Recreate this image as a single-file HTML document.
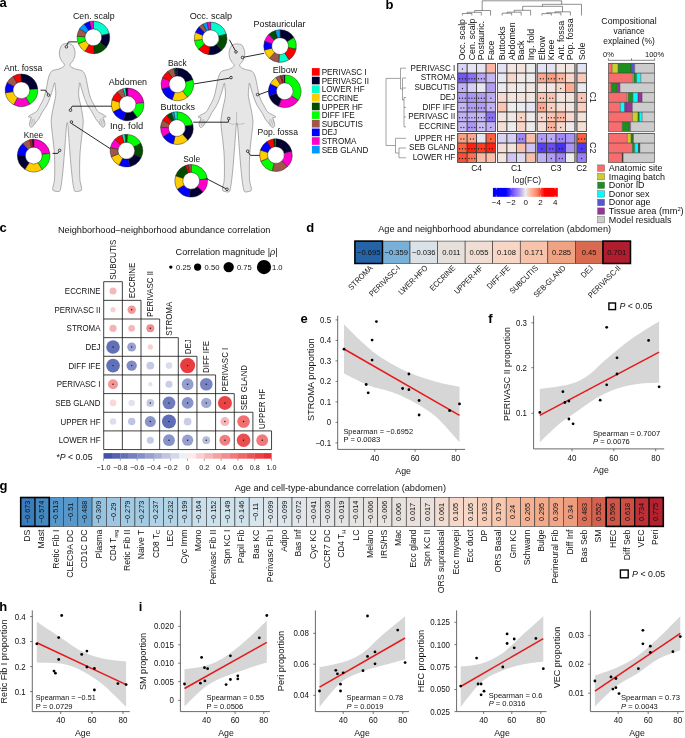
<!DOCTYPE html>
<html><head><meta charset="utf-8"><title>Figure</title>
<style>
html,body{margin:0;padding:0;background:#fff;}
svg{display:block;will-change:transform;}
text{font-family:"Liberation Sans", sans-serif;}
</style></head>
<body>
<svg width="685" height="738" viewBox="0 0 685 738" font-family='"Liberation Sans", sans-serif' fill="#111">
<text x="-0.40" y="6.70" font-size="13" font-weight="bold" fill="#000">a</text>
<path d="M67.20,43.50 C65.70,43.50 63.78,43.78 62.70,44.40 C61.62,45.02 61.23,46.10 60.70,47.20 C60.17,48.30 59.70,49.72 59.50,51.00 C59.30,52.28 59.35,53.63 59.50,54.90 C59.65,56.17 59.95,57.47 60.40,58.60 C60.85,59.73 61.57,60.80 62.20,61.70 C62.83,62.60 63.97,63.18 64.20,64.00 C64.43,64.82 64.53,65.75 63.60,66.60 C62.67,67.45 60.37,68.47 58.60,69.10 C56.83,69.73 54.37,69.78 53.00,70.40 C51.63,71.02 51.13,71.67 50.40,72.80 C49.67,73.93 49.12,75.43 48.60,77.20 C48.08,78.97 47.72,81.33 47.30,83.40 C46.88,85.47 46.68,87.12 46.10,89.60 C45.52,92.08 44.77,95.73 43.80,98.30 C42.83,100.87 41.43,102.88 40.30,105.00 C39.17,107.12 38.15,109.60 37.00,111.00 C35.85,112.40 34.62,112.67 33.40,113.40 C32.18,114.13 30.55,114.87 29.70,115.40 C28.85,115.93 28.30,116.30 28.30,116.60 C28.30,116.90 29.18,117.07 29.70,117.20 C30.22,117.33 31.30,116.88 31.40,117.40 C31.50,117.92 30.63,119.15 30.30,120.30 C29.97,121.45 29.37,123.20 29.40,124.30 C29.43,125.40 29.95,126.53 30.50,126.90 C31.05,127.27 31.78,127.28 32.70,126.50 C33.62,125.72 34.97,123.53 36.00,122.20 C37.03,120.87 37.87,120.15 38.90,118.50 C39.93,116.85 40.87,114.55 42.20,112.30 C43.53,110.05 45.63,107.33 46.90,105.00 C48.17,102.67 48.85,100.87 49.80,98.30 C50.75,95.73 51.80,92.18 52.60,89.60 C53.40,87.02 54.15,83.22 54.60,82.80 C55.05,82.38 55.10,85.35 55.30,87.10 C55.50,88.85 55.80,91.43 55.80,93.30 C55.80,95.17 55.67,96.22 55.30,98.30 C54.93,100.38 54.12,103.35 53.60,105.80 C53.08,108.25 52.57,110.88 52.20,113.00 C51.83,115.12 51.57,116.92 51.40,118.50 C51.23,120.08 51.15,120.82 51.20,122.50 C51.25,124.18 51.42,125.93 51.70,128.60 C51.98,131.27 52.48,134.78 52.90,138.50 C53.32,142.22 53.90,146.97 54.20,150.90 C54.50,154.83 54.62,158.17 54.70,162.10 C54.78,166.03 54.78,171.18 54.70,174.50 C54.62,177.82 54.52,179.85 54.20,182.00 C53.88,184.15 52.97,186.00 52.80,187.40 C52.63,188.80 52.63,189.75 53.20,190.40 C53.77,191.05 55.13,191.17 56.20,191.30 C57.27,191.43 58.82,191.92 59.60,191.20 C60.38,190.48 60.50,188.95 60.90,187.00 C61.30,185.05 61.58,183.03 62.00,179.50 C62.42,175.97 62.97,170.57 63.40,165.80 C63.83,161.03 64.20,156.07 64.60,150.90 C65.00,145.73 65.48,139.03 65.80,134.80 C66.12,130.57 66.27,127.53 66.50,125.50 C66.73,123.47 66.97,122.60 67.20,122.60 C67.43,122.60 67.67,123.47 67.90,125.50 C68.13,127.53 68.28,130.57 68.60,134.80 C68.92,139.03 69.40,145.73 69.80,150.90 C70.20,156.07 70.57,161.03 71.00,165.80 C71.43,170.57 71.98,175.97 72.40,179.50 C72.82,183.03 73.10,185.05 73.50,187.00 C73.90,188.95 74.02,190.48 74.80,191.20 C75.58,191.92 77.13,191.43 78.20,191.30 C79.27,191.17 80.63,191.05 81.20,190.40 C81.77,189.75 81.77,188.80 81.60,187.40 C81.43,186.00 80.52,184.15 80.20,182.00 C79.88,179.85 79.78,177.82 79.70,174.50 C79.62,171.18 79.62,166.03 79.70,162.10 C79.78,158.17 79.90,154.83 80.20,150.90 C80.50,146.97 81.08,142.22 81.50,138.50 C81.92,134.78 82.42,131.27 82.70,128.60 C82.98,125.93 83.15,124.18 83.20,122.50 C83.25,120.82 83.17,120.08 83.00,118.50 C82.83,116.92 82.57,115.12 82.20,113.00 C81.83,110.88 81.32,108.25 80.80,105.80 C80.28,103.35 79.47,100.38 79.10,98.30 C78.73,96.22 78.60,95.17 78.60,93.30 C78.60,91.43 78.90,88.85 79.10,87.10 C79.30,85.35 79.35,82.38 79.80,82.80 C80.25,83.22 81.00,87.02 81.80,89.60 C82.60,92.18 83.65,95.73 84.60,98.30 C85.55,100.87 86.23,102.67 87.50,105.00 C88.77,107.33 90.87,110.05 92.20,112.30 C93.53,114.55 94.47,116.85 95.50,118.50 C96.53,120.15 97.37,120.87 98.40,122.20 C99.43,123.53 100.78,125.72 101.70,126.50 C102.62,127.28 103.35,127.27 103.90,126.90 C104.45,126.53 104.97,125.40 105.00,124.30 C105.03,123.20 104.43,121.45 104.10,120.30 C103.77,119.15 102.90,117.92 103.00,117.40 C103.10,116.88 104.18,117.33 104.70,117.20 C105.22,117.07 106.10,116.90 106.10,116.60 C106.10,116.30 105.55,115.93 104.70,115.40 C103.85,114.87 102.22,114.13 101.00,113.40 C99.78,112.67 98.55,112.40 97.40,111.00 C96.25,109.60 95.23,107.12 94.10,105.00 C92.97,102.88 91.57,100.87 90.60,98.30 C89.63,95.73 88.88,92.08 88.30,89.60 C87.72,87.12 87.52,85.47 87.10,83.40 C86.68,81.33 86.32,78.97 85.80,77.20 C85.28,75.43 84.73,73.93 84.00,72.80 C83.27,71.67 82.77,71.02 81.40,70.40 C80.03,69.78 77.57,69.73 75.80,69.10 C74.03,68.47 71.73,67.45 70.80,66.60 C69.87,65.75 69.97,64.82 70.20,64.00 C70.43,63.18 71.57,62.60 72.20,61.70 C72.83,60.80 73.55,59.73 74.00,58.60 C74.45,57.47 74.75,56.17 74.90,54.90 C75.05,53.63 75.10,52.28 74.90,51.00 C74.70,49.72 74.23,48.30 73.70,47.20 C73.17,46.10 72.78,45.02 71.70,44.40 C70.62,43.78 68.70,43.50 67.20,43.50 Z" fill="#E6E6E6" stroke="#7A7A7A" stroke-width="0.6"/>
<path d="M236.90,43.90 C235.40,43.90 233.48,44.18 232.40,44.80 C231.32,45.42 230.93,46.50 230.40,47.60 C229.87,48.70 229.40,50.12 229.20,51.40 C229.00,52.68 229.05,54.03 229.20,55.30 C229.35,56.57 229.65,57.87 230.10,59.00 C230.55,60.13 231.27,61.20 231.90,62.10 C232.53,63.00 233.67,63.58 233.90,64.40 C234.13,65.22 234.23,66.15 233.30,67.00 C232.37,67.85 230.07,68.87 228.30,69.50 C226.53,70.13 224.07,70.18 222.70,70.80 C221.33,71.42 220.83,72.07 220.10,73.20 C219.37,74.33 218.82,75.83 218.30,77.60 C217.78,79.37 217.42,81.73 217.00,83.80 C216.58,85.87 216.38,87.52 215.80,90.00 C215.22,92.48 214.47,96.13 213.50,98.70 C212.53,101.27 211.13,103.28 210.00,105.40 C208.87,107.52 207.85,110.00 206.70,111.40 C205.55,112.80 204.32,113.07 203.10,113.80 C201.88,114.53 200.25,115.27 199.40,115.80 C198.55,116.33 198.00,116.70 198.00,117.00 C198.00,117.30 198.88,117.47 199.40,117.60 C199.92,117.73 201.00,117.28 201.10,117.80 C201.20,118.32 200.33,119.55 200.00,120.70 C199.67,121.85 199.07,123.60 199.10,124.70 C199.13,125.80 199.65,126.93 200.20,127.30 C200.75,127.67 201.48,127.68 202.40,126.90 C203.32,126.12 204.67,123.93 205.70,122.60 C206.73,121.27 207.57,120.55 208.60,118.90 C209.63,117.25 210.57,114.95 211.90,112.70 C213.23,110.45 215.33,107.73 216.60,105.40 C217.87,103.07 218.55,101.27 219.50,98.70 C220.45,96.13 221.50,92.58 222.30,90.00 C223.10,87.42 223.85,83.62 224.30,83.20 C224.75,82.78 224.80,85.75 225.00,87.50 C225.20,89.25 225.50,91.83 225.50,93.70 C225.50,95.57 225.37,96.62 225.00,98.70 C224.63,100.78 223.82,103.75 223.30,106.20 C222.78,108.65 222.27,111.28 221.90,113.40 C221.53,115.52 221.27,117.32 221.10,118.90 C220.93,120.48 220.85,121.22 220.90,122.90 C220.95,124.58 221.12,126.33 221.40,129.00 C221.68,131.67 222.18,135.18 222.60,138.90 C223.02,142.62 223.60,147.37 223.90,151.30 C224.20,155.23 224.32,158.57 224.40,162.50 C224.48,166.43 224.48,171.58 224.40,174.90 C224.32,178.22 224.22,180.25 223.90,182.40 C223.58,184.55 222.67,186.40 222.50,187.80 C222.33,189.20 222.33,190.15 222.90,190.80 C223.47,191.45 224.83,191.57 225.90,191.70 C226.97,191.83 228.52,192.32 229.30,191.60 C230.08,190.88 230.20,189.35 230.60,187.40 C231.00,185.45 231.28,183.43 231.70,179.90 C232.12,176.37 232.67,170.97 233.10,166.20 C233.53,161.43 233.90,156.47 234.30,151.30 C234.70,146.13 235.18,139.43 235.50,135.20 C235.82,130.97 235.97,127.93 236.20,125.90 C236.43,123.87 236.67,123.00 236.90,123.00 C237.13,123.00 237.37,123.87 237.60,125.90 C237.83,127.93 237.98,130.97 238.30,135.20 C238.62,139.43 239.10,146.13 239.50,151.30 C239.90,156.47 240.27,161.43 240.70,166.20 C241.13,170.97 241.68,176.37 242.10,179.90 C242.52,183.43 242.80,185.45 243.20,187.40 C243.60,189.35 243.72,190.88 244.50,191.60 C245.28,192.32 246.83,191.83 247.90,191.70 C248.97,191.57 250.33,191.45 250.90,190.80 C251.47,190.15 251.47,189.20 251.30,187.80 C251.13,186.40 250.22,184.55 249.90,182.40 C249.58,180.25 249.48,178.22 249.40,174.90 C249.32,171.58 249.32,166.43 249.40,162.50 C249.48,158.57 249.60,155.23 249.90,151.30 C250.20,147.37 250.78,142.62 251.20,138.90 C251.62,135.18 252.12,131.67 252.40,129.00 C252.68,126.33 252.85,124.58 252.90,122.90 C252.95,121.22 252.87,120.48 252.70,118.90 C252.53,117.32 252.27,115.52 251.90,113.40 C251.53,111.28 251.02,108.65 250.50,106.20 C249.98,103.75 249.17,100.78 248.80,98.70 C248.43,96.62 248.30,95.57 248.30,93.70 C248.30,91.83 248.60,89.25 248.80,87.50 C249.00,85.75 249.05,82.78 249.50,83.20 C249.95,83.62 250.70,87.42 251.50,90.00 C252.30,92.58 253.35,96.13 254.30,98.70 C255.25,101.27 255.93,103.07 257.20,105.40 C258.47,107.73 260.57,110.45 261.90,112.70 C263.23,114.95 264.17,117.25 265.20,118.90 C266.23,120.55 267.07,121.27 268.10,122.60 C269.13,123.93 270.48,126.12 271.40,126.90 C272.32,127.68 273.05,127.67 273.60,127.30 C274.15,126.93 274.67,125.80 274.70,124.70 C274.73,123.60 274.13,121.85 273.80,120.70 C273.47,119.55 272.60,118.32 272.70,117.80 C272.80,117.28 273.88,117.73 274.40,117.60 C274.92,117.47 275.80,117.30 275.80,117.00 C275.80,116.70 275.25,116.33 274.40,115.80 C273.55,115.27 271.92,114.53 270.70,113.80 C269.48,113.07 268.25,112.80 267.10,111.40 C265.95,110.00 264.93,107.52 263.80,105.40 C262.67,103.28 261.27,101.27 260.30,98.70 C259.33,96.13 258.58,92.48 258.00,90.00 C257.42,87.52 257.22,85.87 256.80,83.80 C256.38,81.73 256.02,79.37 255.50,77.60 C254.98,75.83 254.43,74.33 253.70,73.20 C252.97,72.07 252.47,71.42 251.10,70.80 C249.73,70.18 247.27,70.13 245.50,69.50 C243.73,68.87 241.43,67.85 240.50,67.00 C239.57,66.15 239.67,65.22 239.90,64.40 C240.13,63.58 241.27,63.00 241.90,62.10 C242.53,61.20 243.25,60.13 243.70,59.00 C244.15,57.87 244.45,56.57 244.60,55.30 C244.75,54.03 244.80,52.68 244.60,51.40 C244.40,50.12 243.93,48.70 243.40,47.60 C242.87,46.50 242.48,45.42 241.40,44.80 C240.32,44.18 238.40,43.90 236.90,43.90 Z" fill="#E6E6E6" stroke="#7A7A7A" stroke-width="0.6"/>
<line x1="30.60" y1="119.50" x2="32.00" y2="125.60" stroke="#9a9a9a" stroke-width="0.5"/>
<line x1="32.20" y1="119.00" x2="33.60" y2="125.00" stroke="#9a9a9a" stroke-width="0.5"/>
<line x1="33.80" y1="118.60" x2="35.20" y2="123.60" stroke="#9a9a9a" stroke-width="0.5"/>
<line x1="103.80" y1="119.50" x2="102.40" y2="125.60" stroke="#9a9a9a" stroke-width="0.5"/>
<line x1="102.20" y1="119.00" x2="100.80" y2="125.00" stroke="#9a9a9a" stroke-width="0.5"/>
<line x1="100.60" y1="118.60" x2="99.20" y2="123.60" stroke="#9a9a9a" stroke-width="0.5"/>
<line x1="200.30" y1="119.90" x2="201.70" y2="126.00" stroke="#9a9a9a" stroke-width="0.5"/>
<line x1="201.90" y1="119.40" x2="203.30" y2="125.40" stroke="#9a9a9a" stroke-width="0.5"/>
<line x1="203.50" y1="119.00" x2="204.90" y2="124.00" stroke="#9a9a9a" stroke-width="0.5"/>
<line x1="273.50" y1="119.90" x2="272.10" y2="126.00" stroke="#9a9a9a" stroke-width="0.5"/>
<line x1="271.90" y1="119.40" x2="270.50" y2="125.40" stroke="#9a9a9a" stroke-width="0.5"/>
<line x1="270.30" y1="119.00" x2="268.90" y2="124.00" stroke="#9a9a9a" stroke-width="0.5"/>
<path d="M236.6,112 L236.6,125.5 M229,123.2 Q233,125.2 236.6,123.8 Q240.5,125.2 244.6,123.2" fill="none" stroke="#9A9A9A" stroke-width="0.5"/>
<path d="M93.40,21.10 A16.3,16.3 0 0 1 109.28,33.73 L101.58,35.51 A8.4,8.4 0 0 0 93.40,29.00 Z" fill="#00FFCC" stroke="#111" stroke-width="0.45"/>
<path d="M109.28,33.73 A16.3,16.3 0 0 1 106.24,47.44 L100.02,42.57 A8.4,8.4 0 0 0 101.58,35.51 Z" fill="#000033" stroke="#111" stroke-width="0.45"/>
<path d="M106.24,47.44 A16.3,16.3 0 0 1 94.25,53.68 L93.84,45.79 A8.4,8.4 0 0 0 100.02,42.57 Z" fill="#004D00" stroke="#111" stroke-width="0.45"/>
<path d="M94.25,53.68 A16.3,16.3 0 0 1 85.00,51.37 L89.07,44.60 A8.4,8.4 0 0 0 93.84,45.79 Z" fill="#FF0000" stroke="#111" stroke-width="0.45"/>
<path d="M85.00,51.37 A16.3,16.3 0 0 1 78.40,43.77 L85.67,40.68 A8.4,8.4 0 0 0 89.07,44.60 Z" fill="#FFCC00" stroke="#111" stroke-width="0.45"/>
<path d="M78.40,43.77 A16.3,16.3 0 0 1 77.14,36.26 L85.02,36.81 A8.4,8.4 0 0 0 85.67,40.68 Z" fill="#00FF00" stroke="#111" stroke-width="0.45"/>
<path d="M77.14,36.26 A16.3,16.3 0 0 1 79.58,28.76 L86.28,32.95 A8.4,8.4 0 0 0 85.02,36.81 Z" fill="#A0564A" stroke="#111" stroke-width="0.45"/>
<path d="M79.58,28.76 A16.3,16.3 0 0 1 84.29,23.89 L88.70,30.44 A8.4,8.4 0 0 0 86.28,32.95 Z" fill="#0099FF" stroke="#111" stroke-width="0.45"/>
<path d="M84.29,23.89 A16.3,16.3 0 0 1 89.73,21.52 L91.51,29.22 A8.4,8.4 0 0 0 88.70,30.44 Z" fill="#0000FF" stroke="#111" stroke-width="0.45"/>
<path d="M89.73,21.52 A16.3,16.3 0 0 1 93.40,21.10 L93.40,29.00 A8.4,8.4 0 0 0 91.51,29.22 Z" fill="#FF00CC" stroke="#111" stroke-width="0.45"/>
<path d="M20.83,74.01 A16.3,16.3 0 0 1 37.64,88.88 L29.77,89.57 A8.4,8.4 0 0 0 21.11,81.91 Z" fill="#000033" stroke="#111" stroke-width="0.45"/>
<path d="M37.64,88.88 A16.3,16.3 0 0 1 29.80,104.27 L25.73,97.50 A8.4,8.4 0 0 0 29.77,89.57 Z" fill="#00FF00" stroke="#111" stroke-width="0.45"/>
<path d="M29.80,104.27 A16.3,16.3 0 0 1 13.75,104.69 L17.46,97.72 A8.4,8.4 0 0 0 25.73,97.50 Z" fill="#FF00CC" stroke="#111" stroke-width="0.45"/>
<path d="M13.75,104.69 A16.3,16.3 0 0 1 5.30,92.85 L13.10,91.61 A8.4,8.4 0 0 0 17.46,97.72 Z" fill="#FFCC00" stroke="#111" stroke-width="0.45"/>
<path d="M5.30,92.85 A16.3,16.3 0 0 1 7.01,82.65 L13.98,86.36 A8.4,8.4 0 0 0 13.10,91.61 Z" fill="#0000FF" stroke="#111" stroke-width="0.45"/>
<path d="M7.01,82.65 A16.3,16.3 0 0 1 13.25,76.18 L17.20,83.03 A8.4,8.4 0 0 0 13.98,86.36 Z" fill="#A0564A" stroke="#111" stroke-width="0.45"/>
<path d="M13.25,76.18 A16.3,16.3 0 0 1 20.83,74.01 L21.11,81.91 A8.4,8.4 0 0 0 17.20,83.03 Z" fill="#FF0000" stroke="#111" stroke-width="0.45"/>
<path d="M33.70,139.30 A16.3,16.3 0 0 1 49.84,153.33 L42.02,154.43 A8.4,8.4 0 0 0 33.70,147.20 Z" fill="#FF00CC" stroke="#111" stroke-width="0.45"/>
<path d="M49.84,153.33 A16.3,16.3 0 0 1 42.10,169.57 L38.03,162.80 A8.4,8.4 0 0 0 42.02,154.43 Z" fill="#00FF00" stroke="#111" stroke-width="0.45"/>
<path d="M42.10,169.57 A16.3,16.3 0 0 1 24.82,169.27 L29.13,162.64 A8.4,8.4 0 0 0 38.03,162.80 Z" fill="#FFCC00" stroke="#111" stroke-width="0.45"/>
<path d="M24.82,169.27 A16.3,16.3 0 0 1 17.41,155.03 L25.31,155.31 A8.4,8.4 0 0 0 29.13,162.64 Z" fill="#000033" stroke="#111" stroke-width="0.45"/>
<path d="M17.41,155.03 A16.3,16.3 0 0 1 22.79,143.49 L28.08,149.36 A8.4,8.4 0 0 0 25.31,155.31 Z" fill="#0000FF" stroke="#111" stroke-width="0.45"/>
<path d="M22.79,143.49 A16.3,16.3 0 0 1 29.76,139.78 L31.67,147.45 A8.4,8.4 0 0 0 28.08,149.36 Z" fill="#A0564A" stroke="#111" stroke-width="0.45"/>
<path d="M29.76,139.78 A16.3,16.3 0 0 1 32.28,139.36 L32.97,147.23 A8.4,8.4 0 0 0 31.67,147.45 Z" fill="#FF0000" stroke="#111" stroke-width="0.45"/>
<path d="M32.28,139.36 A16.3,16.3 0 0 1 33.70,139.30 L33.70,147.20 A8.4,8.4 0 0 0 32.97,147.23 Z" fill="#000033" stroke="#111" stroke-width="0.45"/>
<path d="M127.60,88.10 A16.3,16.3 0 0 1 143.81,102.70 L135.95,103.52 A8.4,8.4 0 0 0 127.60,96.00 Z" fill="#FF00CC" stroke="#111" stroke-width="0.45"/>
<path d="M143.81,102.70 A16.3,16.3 0 0 1 137.18,117.59 L132.54,111.20 A8.4,8.4 0 0 0 135.95,103.52 Z" fill="#00FF00" stroke="#111" stroke-width="0.45"/>
<path d="M137.18,117.59 A16.3,16.3 0 0 1 123.66,120.22 L125.57,112.55 A8.4,8.4 0 0 0 132.54,111.20 Z" fill="#000033" stroke="#111" stroke-width="0.45"/>
<path d="M123.66,120.22 A16.3,16.3 0 0 1 113.08,111.80 L120.12,108.21 A8.4,8.4 0 0 0 125.57,112.55 Z" fill="#0000FF" stroke="#111" stroke-width="0.45"/>
<path d="M113.08,111.80 A16.3,16.3 0 0 1 111.93,99.91 L119.53,102.08 A8.4,8.4 0 0 0 120.12,108.21 Z" fill="#FFCC00" stroke="#111" stroke-width="0.45"/>
<path d="M111.93,99.91 A16.3,16.3 0 0 1 117.12,91.91 L122.20,97.97 A8.4,8.4 0 0 0 119.53,102.08 Z" fill="#FF0000" stroke="#111" stroke-width="0.45"/>
<path d="M117.12,91.91 A16.3,16.3 0 0 1 123.11,88.73 L125.28,96.33 A8.4,8.4 0 0 0 122.20,97.97 Z" fill="#A0564A" stroke="#111" stroke-width="0.45"/>
<path d="M123.11,88.73 A16.3,16.3 0 0 1 125.61,88.22 L126.58,96.06 A8.4,8.4 0 0 0 125.28,96.33 Z" fill="#00FFCC" stroke="#111" stroke-width="0.45"/>
<path d="M125.61,88.22 A16.3,16.3 0 0 1 127.60,88.10 L127.60,96.00 A8.4,8.4 0 0 0 126.58,96.06 Z" fill="#000033" stroke="#111" stroke-width="0.45"/>
<path d="M127.25,134.42 A16.3,16.3 0 0 1 140.92,143.30 L133.88,146.89 A8.4,8.4 0 0 0 126.84,142.31 Z" fill="#00FF00" stroke="#111" stroke-width="0.45"/>
<path d="M140.92,143.30 A16.3,16.3 0 0 1 141.05,157.85 L133.95,154.38 A8.4,8.4 0 0 0 133.88,146.89 Z" fill="#004D00" stroke="#111" stroke-width="0.45"/>
<path d="M141.05,157.85 A16.3,16.3 0 0 1 129.79,166.64 L128.15,158.92 A8.4,8.4 0 0 0 133.95,154.38 Z" fill="#000033" stroke="#111" stroke-width="0.45"/>
<path d="M129.79,166.64 A16.3,16.3 0 0 1 119.00,165.22 L122.59,158.18 A8.4,8.4 0 0 0 128.15,158.92 Z" fill="#0000FF" stroke="#111" stroke-width="0.45"/>
<path d="M119.00,165.22 A16.3,16.3 0 0 1 111.29,156.81 L118.61,153.85 A8.4,8.4 0 0 0 122.59,158.18 Z" fill="#FFCC00" stroke="#111" stroke-width="0.45"/>
<path d="M111.29,156.81 A16.3,16.3 0 0 1 110.40,147.59 L118.15,149.10 A8.4,8.4 0 0 0 118.61,153.85 Z" fill="#A0564A" stroke="#111" stroke-width="0.45"/>
<path d="M110.40,147.59 A16.3,16.3 0 0 1 114.87,139.17 L120.46,144.76 A8.4,8.4 0 0 0 118.15,149.10 Z" fill="#FF00CC" stroke="#111" stroke-width="0.45"/>
<path d="M114.87,139.17 A16.3,16.3 0 0 1 122.18,134.96 L124.23,142.59 A8.4,8.4 0 0 0 120.46,144.76 Z" fill="#FF0000" stroke="#111" stroke-width="0.45"/>
<path d="M122.18,134.96 A16.3,16.3 0 0 1 124.98,134.46 L125.67,142.33 A8.4,8.4 0 0 0 124.23,142.59 Z" fill="#00FFCC" stroke="#111" stroke-width="0.45"/>
<path d="M124.98,134.46 A16.3,16.3 0 0 1 127.25,134.42 L126.84,142.31 A8.4,8.4 0 0 0 125.67,142.33 Z" fill="#004D00" stroke="#111" stroke-width="0.45"/>
<path d="M210.60,22.10 A16.3,16.3 0 0 1 226.34,34.18 L218.71,36.23 A8.4,8.4 0 0 0 210.60,30.00 Z" fill="#00FFCC" stroke="#111" stroke-width="0.45"/>
<path d="M226.34,34.18 A16.3,16.3 0 0 1 221.72,50.32 L216.33,44.54 A8.4,8.4 0 0 0 218.71,36.23 Z" fill="#004D00" stroke="#111" stroke-width="0.45"/>
<path d="M221.72,50.32 A16.3,16.3 0 0 1 208.61,54.58 L209.58,46.74 A8.4,8.4 0 0 0 216.33,44.54 Z" fill="#000033" stroke="#111" stroke-width="0.45"/>
<path d="M208.61,54.58 A16.3,16.3 0 0 1 198.49,49.31 L204.36,44.02 A8.4,8.4 0 0 0 209.58,46.74 Z" fill="#FF0000" stroke="#111" stroke-width="0.45"/>
<path d="M198.49,49.31 A16.3,16.3 0 0 1 194.42,40.39 L202.26,39.42 A8.4,8.4 0 0 0 204.36,44.02 Z" fill="#00FF00" stroke="#111" stroke-width="0.45"/>
<path d="M194.42,40.39 A16.3,16.3 0 0 1 195.49,32.29 L202.81,35.25 A8.4,8.4 0 0 0 202.26,39.42 Z" fill="#FFCC00" stroke="#111" stroke-width="0.45"/>
<path d="M195.49,32.29 A16.3,16.3 0 0 1 199.07,26.87 L204.66,32.46 A8.4,8.4 0 0 0 202.81,35.25 Z" fill="#0000FF" stroke="#111" stroke-width="0.45"/>
<path d="M199.07,26.87 A16.3,16.3 0 0 1 202.95,24.01 L206.66,30.98 A8.4,8.4 0 0 0 204.66,32.46 Z" fill="#A0564A" stroke="#111" stroke-width="0.45"/>
<path d="M202.95,24.01 A16.3,16.3 0 0 1 207.21,22.46 L208.85,30.18 A8.4,8.4 0 0 0 206.66,30.98 Z" fill="#0099FF" stroke="#111" stroke-width="0.45"/>
<path d="M207.21,22.46 A16.3,16.3 0 0 1 210.60,22.10 L210.60,30.00 A8.4,8.4 0 0 0 208.85,30.18 Z" fill="#FF00CC" stroke="#111" stroke-width="0.45"/>
<path d="M280.10,29.80 A16.3,16.3 0 0 1 293.92,37.46 L287.22,41.65 A8.4,8.4 0 0 0 280.10,37.70 Z" fill="#000033" stroke="#111" stroke-width="0.45"/>
<path d="M293.92,37.46 A16.3,16.3 0 0 1 296.10,49.21 L288.35,47.70 A8.4,8.4 0 0 0 287.22,41.65 Z" fill="#00FF00" stroke="#111" stroke-width="0.45"/>
<path d="M296.10,49.21 A16.3,16.3 0 0 1 288.98,59.77 L284.67,53.14 A8.4,8.4 0 0 0 288.35,47.70 Z" fill="#FF0000" stroke="#111" stroke-width="0.45"/>
<path d="M288.98,59.77 A16.3,16.3 0 0 1 278.68,62.34 L279.37,54.47 A8.4,8.4 0 0 0 284.67,53.14 Z" fill="#00FFCC" stroke="#111" stroke-width="0.45"/>
<path d="M278.68,62.34 A16.3,16.3 0 0 1 269.41,58.40 L274.59,52.44 A8.4,8.4 0 0 0 279.37,54.47 Z" fill="#A0564A" stroke="#111" stroke-width="0.45"/>
<path d="M269.41,58.40 A16.3,16.3 0 0 1 264.28,50.04 L271.95,48.13 A8.4,8.4 0 0 0 274.59,52.44 Z" fill="#FFCC00" stroke="#111" stroke-width="0.45"/>
<path d="M264.28,50.04 A16.3,16.3 0 0 1 264.51,41.33 L272.07,43.64 A8.4,8.4 0 0 0 271.95,48.13 Z" fill="#0000FF" stroke="#111" stroke-width="0.45"/>
<path d="M264.51,41.33 A16.3,16.3 0 0 1 268.78,34.37 L274.26,40.06 A8.4,8.4 0 0 0 272.07,43.64 Z" fill="#FF00CC" stroke="#111" stroke-width="0.45"/>
<path d="M268.78,34.37 A16.3,16.3 0 0 1 275.33,30.51 L277.64,38.07 A8.4,8.4 0 0 0 274.26,40.06 Z" fill="#004D00" stroke="#111" stroke-width="0.45"/>
<path d="M275.33,30.51 A16.3,16.3 0 0 1 280.10,29.80 L280.10,37.70 A8.4,8.4 0 0 0 277.64,38.07 Z" fill="#0099FF" stroke="#111" stroke-width="0.45"/>
<path d="M177.40,68.10 A16.3,16.3 0 0 1 192.99,79.63 L185.43,81.94 A8.4,8.4 0 0 0 177.40,76.00 Z" fill="#000033" stroke="#111" stroke-width="0.45"/>
<path d="M192.99,79.63 A16.3,16.3 0 0 1 187.44,97.24 L182.57,91.02 A8.4,8.4 0 0 0 185.43,81.94 Z" fill="#00FF00" stroke="#111" stroke-width="0.45"/>
<path d="M187.44,97.24 A16.3,16.3 0 0 1 172.09,99.81 L174.67,92.34 A8.4,8.4 0 0 0 182.57,91.02 Z" fill="#FFCC00" stroke="#111" stroke-width="0.45"/>
<path d="M172.09,99.81 A16.3,16.3 0 0 1 161.73,88.89 L169.33,86.72 A8.4,8.4 0 0 0 174.67,92.34 Z" fill="#0000FF" stroke="#111" stroke-width="0.45"/>
<path d="M161.73,88.89 A16.3,16.3 0 0 1 162.63,77.51 L169.79,80.85 A8.4,8.4 0 0 0 169.33,86.72 Z" fill="#FF00CC" stroke="#111" stroke-width="0.45"/>
<path d="M162.63,77.51 A16.3,16.3 0 0 1 167.82,71.21 L172.46,77.60 A8.4,8.4 0 0 0 169.79,80.85 Z" fill="#FF0000" stroke="#111" stroke-width="0.45"/>
<path d="M167.82,71.21 A16.3,16.3 0 0 1 174.01,68.46 L175.65,76.18 A8.4,8.4 0 0 0 172.46,77.60 Z" fill="#A0564A" stroke="#111" stroke-width="0.45"/>
<path d="M174.01,68.46 A16.3,16.3 0 0 1 175.98,68.16 L176.67,76.03 A8.4,8.4 0 0 0 175.65,76.18 Z" fill="#004D00" stroke="#111" stroke-width="0.45"/>
<path d="M175.98,68.16 A16.3,16.3 0 0 1 177.40,68.10 L177.40,76.00 A8.4,8.4 0 0 0 176.67,76.03 Z" fill="#000033" stroke="#111" stroke-width="0.45"/>
<path d="M284.70,75.00 A16.3,16.3 0 0 1 298.21,100.41 L291.66,96.00 A8.4,8.4 0 0 0 284.70,82.90 Z" fill="#00FF00" stroke="#111" stroke-width="0.45"/>
<path d="M298.21,100.41 A16.3,16.3 0 0 1 278.33,106.30 L281.42,99.03 A8.4,8.4 0 0 0 291.66,96.00 Z" fill="#FF00CC" stroke="#111" stroke-width="0.45"/>
<path d="M278.33,106.30 A16.3,16.3 0 0 1 269.03,95.79 L276.63,93.62 A8.4,8.4 0 0 0 281.42,99.03 Z" fill="#000033" stroke="#111" stroke-width="0.45"/>
<path d="M269.03,95.79 A16.3,16.3 0 0 1 270.31,83.65 L277.28,87.36 A8.4,8.4 0 0 0 276.63,93.62 Z" fill="#0000FF" stroke="#111" stroke-width="0.45"/>
<path d="M270.31,83.65 A16.3,16.3 0 0 1 276.06,77.48 L280.25,84.18 A8.4,8.4 0 0 0 277.28,87.36 Z" fill="#FFCC00" stroke="#111" stroke-width="0.45"/>
<path d="M276.06,77.48 A16.3,16.3 0 0 1 280.48,75.56 L282.53,83.19 A8.4,8.4 0 0 0 280.25,84.18 Z" fill="#A0564A" stroke="#111" stroke-width="0.45"/>
<path d="M280.48,75.56 A16.3,16.3 0 0 1 282.43,75.16 L283.53,82.98 A8.4,8.4 0 0 0 282.53,83.19 Z" fill="#FF0000" stroke="#111" stroke-width="0.45"/>
<path d="M282.43,75.16 A16.3,16.3 0 0 1 283.85,75.02 L284.26,82.91 A8.4,8.4 0 0 0 283.53,82.98 Z" fill="#00FFCC" stroke="#111" stroke-width="0.45"/>
<path d="M283.85,75.02 A16.3,16.3 0 0 1 284.70,75.00 L284.70,82.90 A8.4,8.4 0 0 0 284.26,82.91 Z" fill="#000033" stroke="#111" stroke-width="0.45"/>
<path d="M177.18,111.80 A16.3,16.3 0 0 1 192.84,124.71 L185.12,126.35 A8.4,8.4 0 0 0 177.05,119.70 Z" fill="#00FF00" stroke="#111" stroke-width="0.45"/>
<path d="M192.84,124.71 A16.3,16.3 0 0 1 187.81,140.21 L182.52,134.34 A8.4,8.4 0 0 0 185.12,126.35 Z" fill="#000033" stroke="#111" stroke-width="0.45"/>
<path d="M187.81,140.21 A16.3,16.3 0 0 1 173.23,143.98 L175.01,136.28 A8.4,8.4 0 0 0 182.52,134.34 Z" fill="#FFCC00" stroke="#111" stroke-width="0.45"/>
<path d="M173.23,143.98 A16.3,16.3 0 0 1 163.08,136.74 L169.78,132.55 A8.4,8.4 0 0 0 175.01,136.28 Z" fill="#0000FF" stroke="#111" stroke-width="0.45"/>
<path d="M163.08,136.74 A16.3,16.3 0 0 1 160.62,127.25 L168.51,127.66 A8.4,8.4 0 0 0 169.78,132.55 Z" fill="#FF00CC" stroke="#111" stroke-width="0.45"/>
<path d="M160.62,127.25 A16.3,16.3 0 0 1 162.64,120.20 L169.55,124.03 A8.4,8.4 0 0 0 168.51,127.66 Z" fill="#A0564A" stroke="#111" stroke-width="0.45"/>
<path d="M162.64,120.20 A16.3,16.3 0 0 1 166.86,115.26 L171.73,121.48 A8.4,8.4 0 0 0 169.55,124.03 Z" fill="#FF0000" stroke="#111" stroke-width="0.45"/>
<path d="M166.86,115.26 A16.3,16.3 0 0 1 171.59,112.69 L174.17,120.16 A8.4,8.4 0 0 0 171.73,121.48 Z" fill="#004D00" stroke="#111" stroke-width="0.45"/>
<path d="M171.59,112.69 A16.3,16.3 0 0 1 174.07,112.05 L175.44,119.83 A8.4,8.4 0 0 0 174.17,120.16 Z" fill="#0099FF" stroke="#111" stroke-width="0.45"/>
<path d="M174.07,112.05 A16.3,16.3 0 0 1 177.18,111.80 L177.05,119.70 A8.4,8.4 0 0 0 175.44,119.83 Z" fill="#00FFCC" stroke="#111" stroke-width="0.45"/>
<path d="M275.90,138.80 A16.3,16.3 0 0 1 291.78,151.43 L284.08,153.21 A8.4,8.4 0 0 0 275.90,146.70 Z" fill="#000033" stroke="#111" stroke-width="0.45"/>
<path d="M291.78,151.43 A16.3,16.3 0 0 1 287.22,166.83 L281.74,161.14 A8.4,8.4 0 0 0 284.08,153.21 Z" fill="#FF00CC" stroke="#111" stroke-width="0.45"/>
<path d="M287.22,166.83 A16.3,16.3 0 0 1 272.23,170.98 L274.01,163.28 A8.4,8.4 0 0 0 281.74,161.14 Z" fill="#A0564A" stroke="#111" stroke-width="0.45"/>
<path d="M272.23,170.98 A16.3,16.3 0 0 1 260.79,161.21 L268.11,158.25 A8.4,8.4 0 0 0 274.01,163.28 Z" fill="#00FF00" stroke="#111" stroke-width="0.45"/>
<path d="M260.79,161.21 A16.3,16.3 0 0 1 260.40,150.06 L267.91,152.50 A8.4,8.4 0 0 0 268.11,158.25 Z" fill="#FFCC00" stroke="#111" stroke-width="0.45"/>
<path d="M260.40,150.06 A16.3,16.3 0 0 1 267.02,141.43 L271.33,148.06 A8.4,8.4 0 0 0 267.91,152.50 Z" fill="#0000FF" stroke="#111" stroke-width="0.45"/>
<path d="M267.02,141.43 A16.3,16.3 0 0 1 273.35,139.00 L274.59,146.80 A8.4,8.4 0 0 0 271.33,148.06 Z" fill="#FF0000" stroke="#111" stroke-width="0.45"/>
<path d="M273.35,139.00 A16.3,16.3 0 0 1 275.05,138.82 L275.46,146.71 A8.4,8.4 0 0 0 274.59,146.80 Z" fill="#004D00" stroke="#111" stroke-width="0.45"/>
<path d="M275.05,138.82 A16.3,16.3 0 0 1 275.90,138.80 L275.90,146.70 A8.4,8.4 0 0 0 275.46,146.71 Z" fill="#00FFCC" stroke="#111" stroke-width="0.45"/>
<path d="M191.20,164.50 A16.3,16.3 0 0 1 207.38,178.81 L199.54,179.78 A8.4,8.4 0 0 0 191.20,172.40 Z" fill="#00FF00" stroke="#111" stroke-width="0.45"/>
<path d="M207.38,178.81 A16.3,16.3 0 0 1 202.93,192.12 L197.24,186.64 A8.4,8.4 0 0 0 199.54,179.78 Z" fill="#FF00CC" stroke="#111" stroke-width="0.45"/>
<path d="M202.93,192.12 A16.3,16.3 0 0 1 189.50,197.01 L190.32,189.15 A8.4,8.4 0 0 0 197.24,186.64 Z" fill="#000033" stroke="#111" stroke-width="0.45"/>
<path d="M189.50,197.01 A16.3,16.3 0 0 1 177.23,189.20 L184.00,185.13 A8.4,8.4 0 0 0 190.32,189.15 Z" fill="#0000FF" stroke="#111" stroke-width="0.45"/>
<path d="M177.23,189.20 A16.3,16.3 0 0 1 175.70,175.76 L183.21,178.20 A8.4,8.4 0 0 0 184.00,185.13 Z" fill="#FFCC00" stroke="#111" stroke-width="0.45"/>
<path d="M175.70,175.76 A16.3,16.3 0 0 1 185.36,165.58 L188.19,172.96 A8.4,8.4 0 0 0 183.21,178.20 Z" fill="#004D00" stroke="#111" stroke-width="0.45"/>
<path d="M185.36,165.58 A16.3,16.3 0 0 1 188.37,164.75 L189.74,172.53 A8.4,8.4 0 0 0 188.19,172.96 Z" fill="#FF0000" stroke="#111" stroke-width="0.45"/>
<path d="M188.37,164.75 A16.3,16.3 0 0 1 191.20,164.50 L191.20,172.40 A8.4,8.4 0 0 0 189.74,172.53 Z" fill="#A0564A" stroke="#111" stroke-width="0.45"/>
<polyline points="77.20,41.90 68.40,41.90 66.80,45.40" fill="none" stroke="#111" stroke-width="0.9"/>
<circle cx="66.40" cy="46.80" r="1.30" fill="none" stroke="#111" stroke-width="0.75"/>
<polyline points="40.50,90.20 45.60,90.20 47.80,93.80" fill="none" stroke="#111" stroke-width="0.9"/>
<circle cx="48.50" cy="95.10" r="1.30" fill="none" stroke="#111" stroke-width="0.75"/>
<polyline points="111.60,106.20 72.20,106.20 70.70,108.90" fill="none" stroke="#111" stroke-width="0.9"/>
<circle cx="70.50" cy="110.20" r="1.30" fill="none" stroke="#111" stroke-width="0.75"/>
<polyline points="71.40,123.40 110.40,148.80" fill="none" stroke="#111" stroke-width="0.9"/>
<circle cx="71.40" cy="122.00" r="1.30" fill="none" stroke="#111" stroke-width="0.75"/>
<polyline points="52.50,153.40 57.80,153.40 59.00,151.60" fill="none" stroke="#111" stroke-width="0.9"/>
<circle cx="59.60" cy="150.40" r="1.30" fill="none" stroke="#111" stroke-width="0.75"/>
<polyline points="229.40,39.70 235.30,50.60" fill="none" stroke="#111" stroke-width="0.9"/>
<circle cx="236.00" cy="51.90" r="1.30" fill="none" stroke="#111" stroke-width="0.75"/>
<polyline points="264.20,53.30 243.80,57.20" fill="none" stroke="#111" stroke-width="0.9"/>
<circle cx="242.50" cy="57.50" r="1.30" fill="none" stroke="#111" stroke-width="0.75"/>
<polyline points="194.00,83.90 229.60,78.20" fill="none" stroke="#111" stroke-width="0.9"/>
<circle cx="231.00" cy="77.60" r="1.30" fill="none" stroke="#111" stroke-width="0.75"/>
<polyline points="268.60,91.10 259.00,94.60" fill="none" stroke="#111" stroke-width="0.9"/>
<circle cx="257.60" cy="94.60" r="1.30" fill="none" stroke="#111" stroke-width="0.75"/>
<polyline points="193.20,122.20 228.30,122.20 228.70,119.80" fill="none" stroke="#111" stroke-width="0.9"/>
<circle cx="228.70" cy="118.50" r="1.30" fill="none" stroke="#111" stroke-width="0.75"/>
<polyline points="259.80,155.40 250.50,155.40 248.40,152.40" fill="none" stroke="#111" stroke-width="0.9"/>
<circle cx="247.70" cy="151.20" r="1.30" fill="none" stroke="#111" stroke-width="0.75"/>
<polyline points="206.00,178.40 225.80,188.60" fill="none" stroke="#111" stroke-width="0.9"/>
<circle cx="227.00" cy="189.30" r="1.30" fill="none" stroke="#111" stroke-width="0.75"/>
<text x="73.00" y="18.90" font-size="8.8" textLength="41.70" lengthAdjust="spacingAndGlyphs">Cen. scalp</text>
<text x="3.90" y="70.80" font-size="8.8" textLength="38.50" lengthAdjust="spacingAndGlyphs">Ant. fossa</text>
<text x="108.80" y="84.60" font-size="8.8" textLength="38.30" lengthAdjust="spacingAndGlyphs">Abdomen</text>
<text x="109.90" y="129.20" font-size="8.8" textLength="33.30" lengthAdjust="spacingAndGlyphs">Ing. fold</text>
<text x="23.80" y="137.50" font-size="8.8" textLength="19.40" lengthAdjust="spacingAndGlyphs">Knee</text>
<text x="189.70" y="19.20" font-size="8.8" textLength="42.50" lengthAdjust="spacingAndGlyphs">Occ. scalp</text>
<text x="253.50" y="26.90" font-size="8.8" textLength="51.90" lengthAdjust="spacingAndGlyphs">Postauricular</text>
<text x="168.00" y="66.40" font-size="8.8" textLength="18.70" lengthAdjust="spacingAndGlyphs">Back</text>
<text x="272.70" y="72.90" font-size="8.8" textLength="24.50" lengthAdjust="spacingAndGlyphs">Elbow</text>
<text x="160.50" y="109.90" font-size="8.8" textLength="34.60" lengthAdjust="spacingAndGlyphs">Buttocks</text>
<text x="257.50" y="135.10" font-size="8.8" textLength="40.40" lengthAdjust="spacingAndGlyphs">Pop. fossa</text>
<text x="183.20" y="161.70" font-size="8.8" textLength="17.00" lengthAdjust="spacingAndGlyphs">Sole</text>
<rect x="311.90" y="68.10" width="7.80" height="7.60" fill="#FF0000"/>
<text x="321.70" y="75.00" font-size="8.8" textLength="45.09" lengthAdjust="spacingAndGlyphs">PERIVASC I</text>
<rect x="311.90" y="76.74" width="7.80" height="7.60" fill="#000033"/>
<text x="321.70" y="83.64" font-size="8.8" textLength="47.35" lengthAdjust="spacingAndGlyphs">PERIVASC II</text>
<rect x="311.90" y="85.38" width="7.80" height="7.60" fill="#00FFCC"/>
<text x="321.70" y="92.28" font-size="8.8" textLength="42.96" lengthAdjust="spacingAndGlyphs">LOWER HF</text>
<rect x="311.90" y="94.02" width="7.80" height="7.60" fill="#FFCC00"/>
<text x="321.70" y="100.92" font-size="8.8" textLength="36.64" lengthAdjust="spacingAndGlyphs">ECCRINE</text>
<rect x="311.90" y="102.66" width="7.80" height="7.60" fill="#004D00"/>
<text x="321.70" y="109.56" font-size="8.8" textLength="41.16" lengthAdjust="spacingAndGlyphs">UPPER HF</text>
<rect x="311.90" y="111.30" width="7.80" height="7.60" fill="#00FF00"/>
<text x="321.70" y="118.20" font-size="8.8" textLength="33.01" lengthAdjust="spacingAndGlyphs">DIFF IFE</text>
<rect x="311.90" y="119.94" width="7.80" height="7.60" fill="#A0564A"/>
<text x="321.70" y="126.84" font-size="8.8" textLength="41.16" lengthAdjust="spacingAndGlyphs">SUBCUTIS</text>
<rect x="311.90" y="128.58" width="7.80" height="7.60" fill="#0000FF"/>
<text x="321.70" y="135.48" font-size="8.8" textLength="15.38" lengthAdjust="spacingAndGlyphs">DEJ</text>
<rect x="311.90" y="137.22" width="7.80" height="7.60" fill="#FF00CC"/>
<text x="321.70" y="144.12" font-size="8.8" textLength="34.82" lengthAdjust="spacingAndGlyphs">STROMA</text>
<rect x="311.90" y="145.86" width="7.80" height="7.60" fill="#0099FF"/>
<text x="321.70" y="152.76" font-size="8.8" textLength="46.60" lengthAdjust="spacingAndGlyphs">SEB GLAND</text>
<text x="385.60" y="9.00" font-size="13" font-weight="bold" fill="#000">b</text>
<rect x="457.70" y="63.40" width="9.47" height="9.73" fill="#dad4f3" stroke="#333" stroke-width="0.75"/>
<ellipse cx="462.44" cy="69.06" rx="0.62" ry="0.78" fill="#1a1a1a"/>
<rect x="467.17" y="63.40" width="9.47" height="9.73" fill="#e6e4f0" stroke="#333" stroke-width="0.75"/>
<rect x="476.64" y="63.40" width="9.47" height="9.73" fill="#e6e4f0" stroke="#333" stroke-width="0.75"/>
<rect x="486.11" y="63.40" width="9.47" height="9.73" fill="#fbb9a3" stroke="#333" stroke-width="0.75"/>
<rect x="497.50" y="63.40" width="9.47" height="9.73" fill="#e4e1f1" stroke="#333" stroke-width="0.75"/>
<rect x="506.97" y="63.40" width="9.47" height="9.73" fill="#f1e6e2" stroke="#333" stroke-width="0.75"/>
<rect x="516.44" y="63.40" width="9.47" height="9.73" fill="#f4e2dc" stroke="#333" stroke-width="0.75"/>
<rect x="525.91" y="63.40" width="9.47" height="9.73" fill="#ececec" stroke="#333" stroke-width="0.75"/>
<rect x="537.10" y="63.40" width="9.47" height="9.73" fill="#e4e1f1" stroke="#333" stroke-width="0.75"/>
<rect x="546.57" y="63.40" width="9.47" height="9.73" fill="#e4e1f1" stroke="#333" stroke-width="0.75"/>
<rect x="556.04" y="63.40" width="9.47" height="9.73" fill="#f1e6e2" stroke="#333" stroke-width="0.75"/>
<rect x="565.51" y="63.40" width="9.47" height="9.73" fill="#f1e6e2" stroke="#333" stroke-width="0.75"/>
<rect x="576.90" y="63.40" width="9.47" height="9.73" fill="#e4e1f1" stroke="#333" stroke-width="0.75"/>
<rect x="457.70" y="73.13" width="9.47" height="9.73" fill="#7356f2" stroke="#333" stroke-width="0.75"/>
<ellipse cx="459.58" cy="78.79" rx="0.62" ry="0.78" fill="#1a1a1a"/>
<ellipse cx="462.44" cy="78.79" rx="0.62" ry="0.78" fill="#1a1a1a"/>
<ellipse cx="465.29" cy="78.79" rx="0.62" ry="0.78" fill="#1a1a1a"/>
<rect x="467.17" y="73.13" width="9.47" height="9.73" fill="#8a6ff3" stroke="#333" stroke-width="0.75"/>
<ellipse cx="469.06" cy="78.79" rx="0.62" ry="0.78" fill="#1a1a1a"/>
<ellipse cx="471.91" cy="78.79" rx="0.62" ry="0.78" fill="#1a1a1a"/>
<ellipse cx="474.76" cy="78.79" rx="0.62" ry="0.78" fill="#1a1a1a"/>
<rect x="476.64" y="73.13" width="9.47" height="9.73" fill="#b7a4f4" stroke="#333" stroke-width="0.75"/>
<ellipse cx="478.52" cy="78.79" rx="0.62" ry="0.78" fill="#1a1a1a"/>
<ellipse cx="481.38" cy="78.79" rx="0.62" ry="0.78" fill="#1a1a1a"/>
<ellipse cx="484.23" cy="78.79" rx="0.62" ry="0.78" fill="#1a1a1a"/>
<rect x="486.11" y="73.13" width="9.47" height="9.73" fill="#c5b7f4" stroke="#333" stroke-width="0.75"/>
<rect x="497.50" y="73.13" width="9.47" height="9.73" fill="#e8e6ee" stroke="#333" stroke-width="0.75"/>
<rect x="506.97" y="73.13" width="9.47" height="9.73" fill="#f7d7cb" stroke="#333" stroke-width="0.75"/>
<rect x="516.44" y="73.13" width="9.47" height="9.73" fill="#efe8e6" stroke="#333" stroke-width="0.75"/>
<rect x="525.91" y="73.13" width="9.47" height="9.73" fill="#ececec" stroke="#333" stroke-width="0.75"/>
<rect x="537.10" y="73.13" width="9.47" height="9.73" fill="#fba78d" stroke="#333" stroke-width="0.75"/>
<ellipse cx="540.41" cy="78.79" rx="0.62" ry="0.78" fill="#1a1a1a"/>
<ellipse cx="543.26" cy="78.79" rx="0.62" ry="0.78" fill="#1a1a1a"/>
<rect x="546.57" y="73.13" width="9.47" height="9.73" fill="#fa9a7e" stroke="#333" stroke-width="0.75"/>
<ellipse cx="548.46" cy="78.79" rx="0.62" ry="0.78" fill="#1a1a1a"/>
<ellipse cx="551.31" cy="78.79" rx="0.62" ry="0.78" fill="#1a1a1a"/>
<ellipse cx="554.16" cy="78.79" rx="0.62" ry="0.78" fill="#1a1a1a"/>
<rect x="556.04" y="73.13" width="9.47" height="9.73" fill="#fbb49c" stroke="#333" stroke-width="0.75"/>
<ellipse cx="559.35" cy="78.79" rx="0.62" ry="0.78" fill="#1a1a1a"/>
<ellipse cx="562.20" cy="78.79" rx="0.62" ry="0.78" fill="#1a1a1a"/>
<rect x="565.51" y="73.13" width="9.47" height="9.73" fill="#f7d7cb" stroke="#333" stroke-width="0.75"/>
<rect x="576.90" y="73.13" width="9.47" height="9.73" fill="#f9cab9" stroke="#333" stroke-width="0.75"/>
<rect x="457.70" y="82.86" width="9.47" height="9.73" fill="#c1b1f4" stroke="#333" stroke-width="0.75"/>
<ellipse cx="462.44" cy="88.52" rx="0.62" ry="0.78" fill="#1a1a1a"/>
<rect x="467.17" y="82.86" width="9.47" height="9.73" fill="#d7cef3" stroke="#333" stroke-width="0.75"/>
<rect x="476.64" y="82.86" width="9.47" height="9.73" fill="#e8e6ee" stroke="#333" stroke-width="0.75"/>
<rect x="486.11" y="82.86" width="9.47" height="9.73" fill="#b19df4" stroke="#333" stroke-width="0.75"/>
<rect x="497.50" y="82.86" width="9.47" height="9.73" fill="#eae9ed" stroke="#333" stroke-width="0.75"/>
<rect x="506.97" y="82.86" width="9.47" height="9.73" fill="#f1e6e2" stroke="#333" stroke-width="0.75"/>
<rect x="516.44" y="82.86" width="9.47" height="9.73" fill="#eeeae9" stroke="#333" stroke-width="0.75"/>
<rect x="525.91" y="82.86" width="9.47" height="9.73" fill="#f1e6e2" stroke="#333" stroke-width="0.75"/>
<rect x="537.10" y="82.86" width="9.47" height="9.73" fill="#f4e2dc" stroke="#333" stroke-width="0.75"/>
<rect x="546.57" y="82.86" width="9.47" height="9.73" fill="#f1e6e2" stroke="#333" stroke-width="0.75"/>
<rect x="556.04" y="82.86" width="9.47" height="9.73" fill="#f7d7cb" stroke="#333" stroke-width="0.75"/>
<ellipse cx="560.78" cy="88.52" rx="0.62" ry="0.78" fill="#1a1a1a"/>
<rect x="565.51" y="82.86" width="9.47" height="9.73" fill="#fbae94" stroke="#333" stroke-width="0.75"/>
<rect x="576.90" y="82.86" width="9.47" height="9.73" fill="#eae9ed" stroke="#333" stroke-width="0.75"/>
<rect x="457.70" y="92.59" width="9.47" height="9.73" fill="#b19df4" stroke="#333" stroke-width="0.75"/>
<ellipse cx="459.58" cy="98.25" rx="0.62" ry="0.78" fill="#1a1a1a"/>
<ellipse cx="462.44" cy="98.25" rx="0.62" ry="0.78" fill="#1a1a1a"/>
<ellipse cx="465.29" cy="98.25" rx="0.62" ry="0.78" fill="#1a1a1a"/>
<rect x="467.17" y="92.59" width="9.47" height="9.73" fill="#ab96f4" stroke="#333" stroke-width="0.75"/>
<ellipse cx="469.06" cy="98.25" rx="0.62" ry="0.78" fill="#1a1a1a"/>
<ellipse cx="471.91" cy="98.25" rx="0.62" ry="0.78" fill="#1a1a1a"/>
<ellipse cx="474.76" cy="98.25" rx="0.62" ry="0.78" fill="#1a1a1a"/>
<rect x="476.64" y="92.59" width="9.47" height="9.73" fill="#b19df4" stroke="#333" stroke-width="0.75"/>
<ellipse cx="478.52" cy="98.25" rx="0.62" ry="0.78" fill="#1a1a1a"/>
<ellipse cx="481.38" cy="98.25" rx="0.62" ry="0.78" fill="#1a1a1a"/>
<ellipse cx="484.23" cy="98.25" rx="0.62" ry="0.78" fill="#1a1a1a"/>
<rect x="486.11" y="92.59" width="9.47" height="9.73" fill="#bcaaf4" stroke="#333" stroke-width="0.75"/>
<ellipse cx="490.85" cy="98.25" rx="0.62" ry="0.78" fill="#1a1a1a"/>
<rect x="497.50" y="92.59" width="9.47" height="9.73" fill="#f6dad1" stroke="#333" stroke-width="0.75"/>
<rect x="506.97" y="92.59" width="9.47" height="9.73" fill="#f4e2dc" stroke="#333" stroke-width="0.75"/>
<rect x="516.44" y="92.59" width="9.47" height="9.73" fill="#f4e2dc" stroke="#333" stroke-width="0.75"/>
<rect x="525.91" y="92.59" width="9.47" height="9.73" fill="#f1e6e2" stroke="#333" stroke-width="0.75"/>
<rect x="537.10" y="92.59" width="9.47" height="9.73" fill="#fac4b2" stroke="#333" stroke-width="0.75"/>
<ellipse cx="540.41" cy="98.25" rx="0.62" ry="0.78" fill="#1a1a1a"/>
<ellipse cx="543.26" cy="98.25" rx="0.62" ry="0.78" fill="#1a1a1a"/>
<rect x="546.57" y="92.59" width="9.47" height="9.73" fill="#fac4b2" stroke="#333" stroke-width="0.75"/>
<ellipse cx="549.88" cy="98.25" rx="0.62" ry="0.78" fill="#1a1a1a"/>
<ellipse cx="552.73" cy="98.25" rx="0.62" ry="0.78" fill="#1a1a1a"/>
<rect x="556.04" y="92.59" width="9.47" height="9.73" fill="#f2e4df" stroke="#333" stroke-width="0.75"/>
<rect x="565.51" y="92.59" width="9.47" height="9.73" fill="#f4e2dc" stroke="#333" stroke-width="0.75"/>
<rect x="576.90" y="92.59" width="9.47" height="9.73" fill="#fac4b2" stroke="#333" stroke-width="0.75"/>
<ellipse cx="581.63" cy="98.25" rx="0.62" ry="0.78" fill="#1a1a1a"/>
<rect x="457.70" y="102.32" width="9.47" height="9.73" fill="#c5b7f4" stroke="#333" stroke-width="0.75"/>
<ellipse cx="461.01" cy="107.98" rx="0.62" ry="0.78" fill="#1a1a1a"/>
<ellipse cx="463.86" cy="107.98" rx="0.62" ry="0.78" fill="#1a1a1a"/>
<rect x="467.17" y="102.32" width="9.47" height="9.73" fill="#b19df4" stroke="#333" stroke-width="0.75"/>
<ellipse cx="469.06" cy="107.98" rx="0.62" ry="0.78" fill="#1a1a1a"/>
<ellipse cx="471.91" cy="107.98" rx="0.62" ry="0.78" fill="#1a1a1a"/>
<ellipse cx="474.76" cy="107.98" rx="0.62" ry="0.78" fill="#1a1a1a"/>
<rect x="476.64" y="102.32" width="9.47" height="9.73" fill="#b19df4" stroke="#333" stroke-width="0.75"/>
<ellipse cx="478.52" cy="107.98" rx="0.62" ry="0.78" fill="#1a1a1a"/>
<ellipse cx="481.38" cy="107.98" rx="0.62" ry="0.78" fill="#1a1a1a"/>
<ellipse cx="484.23" cy="107.98" rx="0.62" ry="0.78" fill="#1a1a1a"/>
<rect x="486.11" y="102.32" width="9.47" height="9.73" fill="#c1b1f4" stroke="#333" stroke-width="0.75"/>
<ellipse cx="490.85" cy="107.98" rx="0.62" ry="0.78" fill="#1a1a1a"/>
<rect x="497.50" y="102.32" width="9.47" height="9.73" fill="#fac4b2" stroke="#333" stroke-width="0.75"/>
<rect x="506.97" y="102.32" width="9.47" height="9.73" fill="#ececec" stroke="#333" stroke-width="0.75"/>
<rect x="516.44" y="102.32" width="9.47" height="9.73" fill="#eae9ed" stroke="#333" stroke-width="0.75"/>
<rect x="525.91" y="102.32" width="9.47" height="9.73" fill="#e6e4f0" stroke="#333" stroke-width="0.75"/>
<rect x="537.10" y="102.32" width="9.47" height="9.73" fill="#fba78d" stroke="#333" stroke-width="0.75"/>
<ellipse cx="540.41" cy="107.98" rx="0.62" ry="0.78" fill="#1a1a1a"/>
<ellipse cx="543.26" cy="107.98" rx="0.62" ry="0.78" fill="#1a1a1a"/>
<rect x="546.57" y="102.32" width="9.47" height="9.73" fill="#f9cfc0" stroke="#333" stroke-width="0.75"/>
<ellipse cx="551.31" cy="107.98" rx="0.62" ry="0.78" fill="#1a1a1a"/>
<rect x="556.04" y="102.32" width="9.47" height="9.73" fill="#f5ded6" stroke="#333" stroke-width="0.75"/>
<rect x="565.51" y="102.32" width="9.47" height="9.73" fill="#f2e4df" stroke="#333" stroke-width="0.75"/>
<rect x="576.90" y="102.32" width="9.47" height="9.73" fill="#f9cfc0" stroke="#333" stroke-width="0.75"/>
<rect x="457.70" y="112.05" width="9.47" height="9.73" fill="#c1b1f4" stroke="#333" stroke-width="0.75"/>
<ellipse cx="459.58" cy="117.72" rx="0.62" ry="0.78" fill="#1a1a1a"/>
<ellipse cx="462.44" cy="117.72" rx="0.62" ry="0.78" fill="#1a1a1a"/>
<ellipse cx="465.29" cy="117.72" rx="0.62" ry="0.78" fill="#1a1a1a"/>
<rect x="467.17" y="112.05" width="9.47" height="9.73" fill="#c1b1f4" stroke="#333" stroke-width="0.75"/>
<ellipse cx="469.06" cy="117.72" rx="0.62" ry="0.78" fill="#1a1a1a"/>
<ellipse cx="471.91" cy="117.72" rx="0.62" ry="0.78" fill="#1a1a1a"/>
<ellipse cx="474.76" cy="117.72" rx="0.62" ry="0.78" fill="#1a1a1a"/>
<rect x="476.64" y="112.05" width="9.47" height="9.73" fill="#c5b7f4" stroke="#333" stroke-width="0.75"/>
<ellipse cx="478.52" cy="117.72" rx="0.62" ry="0.78" fill="#1a1a1a"/>
<ellipse cx="481.38" cy="117.72" rx="0.62" ry="0.78" fill="#1a1a1a"/>
<ellipse cx="484.23" cy="117.72" rx="0.62" ry="0.78" fill="#1a1a1a"/>
<rect x="486.11" y="112.05" width="9.47" height="9.73" fill="#8a6ff3" stroke="#333" stroke-width="0.75"/>
<ellipse cx="489.42" cy="117.72" rx="0.62" ry="0.78" fill="#1a1a1a"/>
<ellipse cx="492.27" cy="117.72" rx="0.62" ry="0.78" fill="#1a1a1a"/>
<rect x="497.50" y="112.05" width="9.47" height="9.73" fill="#f1e6e2" stroke="#333" stroke-width="0.75"/>
<rect x="506.97" y="112.05" width="9.47" height="9.73" fill="#efe8e6" stroke="#333" stroke-width="0.75"/>
<rect x="516.44" y="112.05" width="9.47" height="9.73" fill="#f8d3c6" stroke="#333" stroke-width="0.75"/>
<ellipse cx="521.18" cy="117.72" rx="0.62" ry="0.78" fill="#1a1a1a"/>
<rect x="525.91" y="112.05" width="9.47" height="9.73" fill="#eeeae9" stroke="#333" stroke-width="0.75"/>
<rect x="537.10" y="112.05" width="9.47" height="9.73" fill="#f7d7cb" stroke="#333" stroke-width="0.75"/>
<ellipse cx="541.84" cy="117.72" rx="0.62" ry="0.78" fill="#1a1a1a"/>
<rect x="546.57" y="112.05" width="9.47" height="9.73" fill="#fac4b2" stroke="#333" stroke-width="0.75"/>
<ellipse cx="548.46" cy="117.72" rx="0.62" ry="0.78" fill="#1a1a1a"/>
<ellipse cx="551.31" cy="117.72" rx="0.62" ry="0.78" fill="#1a1a1a"/>
<ellipse cx="554.16" cy="117.72" rx="0.62" ry="0.78" fill="#1a1a1a"/>
<rect x="556.04" y="112.05" width="9.47" height="9.73" fill="#fbb9a3" stroke="#333" stroke-width="0.75"/>
<ellipse cx="557.93" cy="117.72" rx="0.62" ry="0.78" fill="#1a1a1a"/>
<ellipse cx="560.78" cy="117.72" rx="0.62" ry="0.78" fill="#1a1a1a"/>
<ellipse cx="563.63" cy="117.72" rx="0.62" ry="0.78" fill="#1a1a1a"/>
<rect x="565.51" y="112.05" width="9.47" height="9.73" fill="#f6dad1" stroke="#333" stroke-width="0.75"/>
<rect x="576.90" y="112.05" width="9.47" height="9.73" fill="#f4e2dc" stroke="#333" stroke-width="0.75"/>
<rect x="457.70" y="121.78" width="9.47" height="9.73" fill="#c5b7f4" stroke="#333" stroke-width="0.75"/>
<ellipse cx="461.01" cy="127.44" rx="0.62" ry="0.78" fill="#1a1a1a"/>
<ellipse cx="463.86" cy="127.44" rx="0.62" ry="0.78" fill="#1a1a1a"/>
<rect x="467.17" y="121.78" width="9.47" height="9.73" fill="#ab96f4" stroke="#333" stroke-width="0.75"/>
<ellipse cx="469.06" cy="127.44" rx="0.62" ry="0.78" fill="#1a1a1a"/>
<ellipse cx="471.91" cy="127.44" rx="0.62" ry="0.78" fill="#1a1a1a"/>
<ellipse cx="474.76" cy="127.44" rx="0.62" ry="0.78" fill="#1a1a1a"/>
<rect x="476.64" y="121.78" width="9.47" height="9.73" fill="#cabef4" stroke="#333" stroke-width="0.75"/>
<ellipse cx="479.95" cy="127.44" rx="0.62" ry="0.78" fill="#1a1a1a"/>
<ellipse cx="482.80" cy="127.44" rx="0.62" ry="0.78" fill="#1a1a1a"/>
<rect x="486.11" y="121.78" width="9.47" height="9.73" fill="#c1b1f4" stroke="#333" stroke-width="0.75"/>
<ellipse cx="490.85" cy="127.44" rx="0.62" ry="0.78" fill="#1a1a1a"/>
<rect x="497.50" y="121.78" width="9.47" height="9.73" fill="#f5ded6" stroke="#333" stroke-width="0.75"/>
<rect x="506.97" y="121.78" width="9.47" height="9.73" fill="#ececec" stroke="#333" stroke-width="0.75"/>
<rect x="516.44" y="121.78" width="9.47" height="9.73" fill="#f8d3c6" stroke="#333" stroke-width="0.75"/>
<rect x="525.91" y="121.78" width="9.47" height="9.73" fill="#eeeae9" stroke="#333" stroke-width="0.75"/>
<rect x="537.10" y="121.78" width="9.47" height="9.73" fill="#f5ded6" stroke="#333" stroke-width="0.75"/>
<rect x="546.57" y="121.78" width="9.47" height="9.73" fill="#fbb49c" stroke="#333" stroke-width="0.75"/>
<ellipse cx="548.46" cy="127.44" rx="0.62" ry="0.78" fill="#1a1a1a"/>
<ellipse cx="551.31" cy="127.44" rx="0.62" ry="0.78" fill="#1a1a1a"/>
<ellipse cx="554.16" cy="127.44" rx="0.62" ry="0.78" fill="#1a1a1a"/>
<rect x="556.04" y="121.78" width="9.47" height="9.73" fill="#f7d7cb" stroke="#333" stroke-width="0.75"/>
<ellipse cx="560.78" cy="127.44" rx="0.62" ry="0.78" fill="#1a1a1a"/>
<rect x="565.51" y="121.78" width="9.47" height="9.73" fill="#eeeae9" stroke="#333" stroke-width="0.75"/>
<rect x="576.90" y="121.78" width="9.47" height="9.73" fill="#f5ded6" stroke="#333" stroke-width="0.75"/>
<rect x="457.70" y="133.40" width="9.47" height="9.73" fill="#faa185" stroke="#333" stroke-width="0.75"/>
<ellipse cx="461.01" cy="139.07" rx="0.62" ry="0.78" fill="#1a1a1a"/>
<ellipse cx="463.86" cy="139.07" rx="0.62" ry="0.78" fill="#1a1a1a"/>
<rect x="467.17" y="133.40" width="9.47" height="9.73" fill="#fba78d" stroke="#333" stroke-width="0.75"/>
<ellipse cx="470.48" cy="139.07" rx="0.62" ry="0.78" fill="#1a1a1a"/>
<ellipse cx="473.33" cy="139.07" rx="0.62" ry="0.78" fill="#1a1a1a"/>
<rect x="476.64" y="133.40" width="9.47" height="9.73" fill="#e6e4f0" stroke="#333" stroke-width="0.75"/>
<rect x="486.11" y="133.40" width="9.47" height="9.73" fill="#ff6140" stroke="#333" stroke-width="0.75"/>
<ellipse cx="490.85" cy="139.07" rx="0.62" ry="0.78" fill="#1a1a1a"/>
<rect x="497.50" y="133.40" width="9.47" height="9.73" fill="#dad4f3" stroke="#333" stroke-width="0.75"/>
<rect x="506.97" y="133.40" width="9.47" height="9.73" fill="#d7cef3" stroke="#333" stroke-width="0.75"/>
<rect x="516.44" y="133.40" width="9.47" height="9.73" fill="#a087f4" stroke="#333" stroke-width="0.75"/>
<ellipse cx="519.75" cy="139.07" rx="0.62" ry="0.78" fill="#1a1a1a"/>
<ellipse cx="522.60" cy="139.07" rx="0.62" ry="0.78" fill="#1a1a1a"/>
<rect x="525.91" y="133.40" width="9.47" height="9.73" fill="#fabfaa" stroke="#333" stroke-width="0.75"/>
<rect x="537.10" y="133.40" width="9.47" height="9.73" fill="#b19df4" stroke="#333" stroke-width="0.75"/>
<ellipse cx="541.84" cy="139.07" rx="0.62" ry="0.78" fill="#1a1a1a"/>
<rect x="546.57" y="133.40" width="9.47" height="9.73" fill="#bcaaf4" stroke="#333" stroke-width="0.75"/>
<ellipse cx="551.31" cy="139.07" rx="0.62" ry="0.78" fill="#1a1a1a"/>
<rect x="556.04" y="133.40" width="9.47" height="9.73" fill="#a087f4" stroke="#333" stroke-width="0.75"/>
<ellipse cx="559.35" cy="139.07" rx="0.62" ry="0.78" fill="#1a1a1a"/>
<ellipse cx="562.20" cy="139.07" rx="0.62" ry="0.78" fill="#1a1a1a"/>
<rect x="565.51" y="133.40" width="9.47" height="9.73" fill="#ab96f4" stroke="#333" stroke-width="0.75"/>
<rect x="576.90" y="133.40" width="9.47" height="9.73" fill="#ff6140" stroke="#333" stroke-width="0.75"/>
<ellipse cx="578.78" cy="139.07" rx="0.62" ry="0.78" fill="#1a1a1a"/>
<ellipse cx="581.63" cy="139.07" rx="0.62" ry="0.78" fill="#1a1a1a"/>
<ellipse cx="584.49" cy="139.07" rx="0.62" ry="0.78" fill="#1a1a1a"/>
<rect x="457.70" y="143.13" width="9.47" height="9.73" fill="#ff6140" stroke="#333" stroke-width="0.75"/>
<ellipse cx="459.58" cy="148.80" rx="0.62" ry="0.78" fill="#1a1a1a"/>
<ellipse cx="462.44" cy="148.80" rx="0.62" ry="0.78" fill="#1a1a1a"/>
<ellipse cx="465.29" cy="148.80" rx="0.62" ry="0.78" fill="#1a1a1a"/>
<rect x="467.17" y="143.13" width="9.47" height="9.73" fill="#ff210e" stroke="#333" stroke-width="0.75"/>
<ellipse cx="469.06" cy="148.80" rx="0.62" ry="0.78" fill="#1a1a1a"/>
<ellipse cx="471.91" cy="148.80" rx="0.62" ry="0.78" fill="#1a1a1a"/>
<ellipse cx="474.76" cy="148.80" rx="0.62" ry="0.78" fill="#1a1a1a"/>
<rect x="476.64" y="143.13" width="9.47" height="9.73" fill="#ff3c20" stroke="#333" stroke-width="0.75"/>
<ellipse cx="478.52" cy="148.80" rx="0.62" ry="0.78" fill="#1a1a1a"/>
<ellipse cx="481.38" cy="148.80" rx="0.62" ry="0.78" fill="#1a1a1a"/>
<ellipse cx="484.23" cy="148.80" rx="0.62" ry="0.78" fill="#1a1a1a"/>
<rect x="486.11" y="143.13" width="9.47" height="9.73" fill="#ff210e" stroke="#333" stroke-width="0.75"/>
<ellipse cx="489.42" cy="148.80" rx="0.62" ry="0.78" fill="#1a1a1a"/>
<ellipse cx="492.27" cy="148.80" rx="0.62" ry="0.78" fill="#1a1a1a"/>
<rect x="497.50" y="143.13" width="9.47" height="9.73" fill="#f5ded6" stroke="#333" stroke-width="0.75"/>
<rect x="506.97" y="143.13" width="9.47" height="9.73" fill="#f4e2dc" stroke="#333" stroke-width="0.75"/>
<rect x="516.44" y="143.13" width="9.47" height="9.73" fill="#fabfaa" stroke="#333" stroke-width="0.75"/>
<rect x="525.91" y="143.13" width="9.47" height="9.73" fill="#cfc4f4" stroke="#333" stroke-width="0.75"/>
<rect x="537.10" y="143.13" width="9.47" height="9.73" fill="#583ff3" stroke="#333" stroke-width="0.75"/>
<ellipse cx="541.84" cy="148.80" rx="0.62" ry="0.78" fill="#1a1a1a"/>
<rect x="546.57" y="143.13" width="9.47" height="9.73" fill="#6a4ef2" stroke="#333" stroke-width="0.75"/>
<ellipse cx="549.88" cy="148.80" rx="0.62" ry="0.78" fill="#1a1a1a"/>
<ellipse cx="552.73" cy="148.80" rx="0.62" ry="0.78" fill="#1a1a1a"/>
<rect x="556.04" y="143.13" width="9.47" height="9.73" fill="#4630f3" stroke="#333" stroke-width="0.75"/>
<ellipse cx="559.35" cy="148.80" rx="0.62" ry="0.78" fill="#1a1a1a"/>
<ellipse cx="562.20" cy="148.80" rx="0.62" ry="0.78" fill="#1a1a1a"/>
<rect x="565.51" y="143.13" width="9.47" height="9.73" fill="#ab96f4" stroke="#333" stroke-width="0.75"/>
<rect x="576.90" y="143.13" width="9.47" height="9.73" fill="#4f38f3" stroke="#333" stroke-width="0.75"/>
<ellipse cx="581.63" cy="148.80" rx="0.62" ry="0.78" fill="#1a1a1a"/>
<rect x="457.70" y="152.86" width="9.47" height="9.73" fill="#ff4e30" stroke="#333" stroke-width="0.75"/>
<ellipse cx="459.58" cy="158.53" rx="0.62" ry="0.78" fill="#1a1a1a"/>
<ellipse cx="462.44" cy="158.53" rx="0.62" ry="0.78" fill="#1a1a1a"/>
<ellipse cx="465.29" cy="158.53" rx="0.62" ry="0.78" fill="#1a1a1a"/>
<rect x="467.17" y="152.86" width="9.47" height="9.73" fill="#fe7251" stroke="#333" stroke-width="0.75"/>
<ellipse cx="469.06" cy="158.53" rx="0.62" ry="0.78" fill="#1a1a1a"/>
<ellipse cx="471.91" cy="158.53" rx="0.62" ry="0.78" fill="#1a1a1a"/>
<ellipse cx="474.76" cy="158.53" rx="0.62" ry="0.78" fill="#1a1a1a"/>
<rect x="476.64" y="152.86" width="9.47" height="9.73" fill="#fbb9a3" stroke="#333" stroke-width="0.75"/>
<rect x="486.11" y="152.86" width="9.47" height="9.73" fill="#fabfaa" stroke="#333" stroke-width="0.75"/>
<rect x="497.50" y="152.86" width="9.47" height="9.73" fill="#f2e4df" stroke="#333" stroke-width="0.75"/>
<rect x="506.97" y="152.86" width="9.47" height="9.73" fill="#cfc4f4" stroke="#333" stroke-width="0.75"/>
<rect x="516.44" y="152.86" width="9.47" height="9.73" fill="#ded9f2" stroke="#333" stroke-width="0.75"/>
<rect x="525.91" y="152.86" width="9.47" height="9.73" fill="#fabfaa" stroke="#333" stroke-width="0.75"/>
<rect x="537.10" y="152.86" width="9.47" height="9.73" fill="#c1b1f4" stroke="#333" stroke-width="0.75"/>
<rect x="546.57" y="152.86" width="9.47" height="9.73" fill="#b19df4" stroke="#333" stroke-width="0.75"/>
<ellipse cx="551.31" cy="158.53" rx="0.62" ry="0.78" fill="#1a1a1a"/>
<rect x="556.04" y="152.86" width="9.47" height="9.73" fill="#a087f4" stroke="#333" stroke-width="0.75"/>
<ellipse cx="559.35" cy="158.53" rx="0.62" ry="0.78" fill="#1a1a1a"/>
<ellipse cx="562.20" cy="158.53" rx="0.62" ry="0.78" fill="#1a1a1a"/>
<rect x="565.51" y="152.86" width="9.47" height="9.73" fill="#ececec" stroke="#333" stroke-width="0.75"/>
<rect x="576.90" y="152.86" width="9.47" height="9.73" fill="#9a80f4" stroke="#333" stroke-width="0.75"/>
<ellipse cx="581.63" cy="158.53" rx="0.62" ry="0.78" fill="#1a1a1a"/>
<rect x="457.70" y="63.40" width="37.88" height="68.11" fill="none" stroke="#555" stroke-width="0.8"/>
<rect x="457.70" y="133.40" width="37.88" height="29.19" fill="none" stroke="#555" stroke-width="0.8"/>
<rect x="497.50" y="63.40" width="37.88" height="68.11" fill="none" stroke="#555" stroke-width="0.8"/>
<rect x="497.50" y="133.40" width="37.88" height="29.19" fill="none" stroke="#555" stroke-width="0.8"/>
<rect x="537.10" y="63.40" width="37.88" height="68.11" fill="none" stroke="#555" stroke-width="0.8"/>
<rect x="537.10" y="133.40" width="37.88" height="29.19" fill="none" stroke="#555" stroke-width="0.8"/>
<rect x="576.90" y="63.40" width="9.47" height="68.11" fill="none" stroke="#555" stroke-width="0.8"/>
<rect x="576.90" y="133.40" width="9.47" height="29.19" fill="none" stroke="#555" stroke-width="0.8"/>
<text x="455.30" y="70.70" font-size="8.6" text-anchor="end" textLength="44.78" lengthAdjust="spacingAndGlyphs">PERIVASC I</text>
<text x="455.30" y="80.43" font-size="8.6" text-anchor="end" textLength="34.58" lengthAdjust="spacingAndGlyphs">STROMA</text>
<text x="455.30" y="90.16" font-size="8.6" text-anchor="end" textLength="40.88" lengthAdjust="spacingAndGlyphs">SUBCUTIS</text>
<text x="455.30" y="99.89" font-size="8.6" text-anchor="end" textLength="15.27" lengthAdjust="spacingAndGlyphs">DEJ</text>
<text x="455.30" y="109.62" font-size="8.6" text-anchor="end" textLength="32.78" lengthAdjust="spacingAndGlyphs">DIFF IFE</text>
<text x="455.30" y="119.35" font-size="8.6" text-anchor="end" textLength="47.02" lengthAdjust="spacingAndGlyphs">PERIVASC II</text>
<text x="455.30" y="129.08" font-size="8.6" text-anchor="end" textLength="36.38" lengthAdjust="spacingAndGlyphs">ECCRINE</text>
<text x="455.30" y="140.70" font-size="8.6" text-anchor="end" textLength="40.88" lengthAdjust="spacingAndGlyphs">UPPER HF</text>
<text x="455.30" y="150.43" font-size="8.6" text-anchor="end" textLength="46.28" lengthAdjust="spacingAndGlyphs">SEB GLAND</text>
<text x="455.30" y="160.16" font-size="8.6" text-anchor="end" textLength="42.67" lengthAdjust="spacingAndGlyphs">LOWER HF</text>
<text x="465.44" y="60.30" font-size="8.6" textLength="41.35" lengthAdjust="spacingAndGlyphs" transform="rotate(-90 465.44 60.30)">Occ. scalp</text>
<text x="474.91" y="60.30" font-size="8.6" textLength="41.85" lengthAdjust="spacingAndGlyphs" transform="rotate(-90 474.91 60.30)">Cen. scalp</text>
<text x="484.38" y="60.30" font-size="8.6" textLength="39.39" lengthAdjust="spacingAndGlyphs" transform="rotate(-90 484.38 60.30)">Postauric.</text>
<text x="493.85" y="60.30" font-size="8.6" textLength="19.69" lengthAdjust="spacingAndGlyphs" transform="rotate(-90 493.85 60.30)">Face</text>
<text x="505.24" y="60.30" font-size="8.6" textLength="33.97" lengthAdjust="spacingAndGlyphs" transform="rotate(-90 505.24 60.30)">Buttocks</text>
<text x="514.71" y="60.30" font-size="8.6" textLength="37.92" lengthAdjust="spacingAndGlyphs" transform="rotate(-90 514.71 60.30)">Abdomen</text>
<text x="524.18" y="60.30" font-size="8.6" textLength="19.69" lengthAdjust="spacingAndGlyphs" transform="rotate(-90 524.18 60.30)">Back</text>
<text x="533.64" y="60.30" font-size="8.6" textLength="31.52" lengthAdjust="spacingAndGlyphs" transform="rotate(-90 533.64 60.30)">Ing. fold</text>
<text x="544.84" y="60.30" font-size="8.6" textLength="24.13" lengthAdjust="spacingAndGlyphs" transform="rotate(-90 544.84 60.30)">Elbow</text>
<text x="554.31" y="60.30" font-size="8.6" textLength="20.69" lengthAdjust="spacingAndGlyphs" transform="rotate(-90 554.31 60.30)">Knee</text>
<text x="563.78" y="60.30" font-size="8.6" textLength="39.39" lengthAdjust="spacingAndGlyphs" transform="rotate(-90 563.78 60.30)">Ant. fossa</text>
<text x="573.25" y="60.30" font-size="8.6" textLength="41.86" lengthAdjust="spacingAndGlyphs" transform="rotate(-90 573.25 60.30)">Pop. fossa</text>
<text x="584.63" y="60.30" font-size="8.6" textLength="17.73" lengthAdjust="spacingAndGlyphs" transform="rotate(-90 584.63 60.30)">Sole</text>
<text x="476.60" y="171.00" font-size="8.5" text-anchor="middle">C4</text>
<text x="516.40" y="171.00" font-size="8.5" text-anchor="middle">C1</text>
<text x="556.00" y="171.00" font-size="8.5" text-anchor="middle">C3</text>
<text x="581.60" y="171.00" font-size="8.5" text-anchor="middle">C2</text>
<text x="527.00" y="182.60" font-size="8.5" text-anchor="middle">log(FC)</text>
<text x="589.60" y="97.40" font-size="8.8" text-anchor="middle" transform="rotate(90 589.60 97.40)">C1</text>
<text x="589.60" y="147.70" font-size="8.8" text-anchor="middle" transform="rotate(90 589.60 147.70)">C2</text>
<defs><linearGradient id="fcg" x1="0" x2="1" y1="0" y2="0"><stop offset="0" stop-color="#0000FF"/><stop offset="0.2" stop-color="#0000FF"/><stop offset="0.32" stop-color="#7F5FF5"/><stop offset="0.42" stop-color="#B5A2F2"/><stop offset="0.5" stop-color="#EDEDED"/><stop offset="0.58" stop-color="#FBBBA3"/><stop offset="0.68" stop-color="#FA8466"/><stop offset="0.8" stop-color="#FF0000"/><stop offset="1" stop-color="#FF0000"/></linearGradient></defs>
<rect x="492.90" y="187.90" width="64.90" height="8.90" fill="url(#fcg)"/>
<line x1="496.40" y1="187.90" x2="496.40" y2="189.30" stroke="#fff" stroke-width="0.5"/>
<line x1="496.40" y1="195.40" x2="496.40" y2="196.80" stroke="#fff" stroke-width="0.5"/>
<text x="496.40" y="205.30" font-size="8" text-anchor="middle">−4</text>
<line x1="511.10" y1="187.90" x2="511.10" y2="189.30" stroke="#fff" stroke-width="0.5"/>
<line x1="511.10" y1="195.40" x2="511.10" y2="196.80" stroke="#fff" stroke-width="0.5"/>
<text x="511.10" y="205.30" font-size="8" text-anchor="middle">−2</text>
<line x1="525.80" y1="187.90" x2="525.80" y2="189.30" stroke="#fff" stroke-width="0.5"/>
<line x1="525.80" y1="195.40" x2="525.80" y2="196.80" stroke="#fff" stroke-width="0.5"/>
<text x="525.80" y="205.30" font-size="8" text-anchor="middle">0</text>
<line x1="540.50" y1="187.90" x2="540.50" y2="189.30" stroke="#fff" stroke-width="0.5"/>
<line x1="540.50" y1="195.40" x2="540.50" y2="196.80" stroke="#fff" stroke-width="0.5"/>
<text x="540.50" y="205.30" font-size="8" text-anchor="middle">2</text>
<line x1="555.20" y1="187.90" x2="555.20" y2="189.30" stroke="#fff" stroke-width="0.5"/>
<line x1="555.20" y1="195.40" x2="555.20" y2="196.80" stroke="#fff" stroke-width="0.5"/>
<text x="555.20" y="205.30" font-size="8" text-anchor="middle">4</text>
<polyline points="482.20,0.80 561.70,0.80" fill="none" stroke="#444" stroke-width="0.6"/>
<polyline points="482.20,0.80 482.20,10.50" fill="none" stroke="#444" stroke-width="0.6"/>
<polyline points="474.70,10.50 490.50,10.50" fill="none" stroke="#444" stroke-width="0.6"/>
<polyline points="490.50,10.50 490.50,15.50" fill="none" stroke="#444" stroke-width="0.6"/>
<polyline points="474.70,10.50 474.70,12.30" fill="none" stroke="#444" stroke-width="0.6"/>
<polyline points="467.20,12.30 481.30,12.30" fill="none" stroke="#444" stroke-width="0.6"/>
<polyline points="481.30,12.30 481.30,15.50" fill="none" stroke="#444" stroke-width="0.6"/>
<polyline points="467.20,12.30 467.20,13.50" fill="none" stroke="#444" stroke-width="0.6"/>
<polyline points="462.40,13.50 471.90,13.50" fill="none" stroke="#444" stroke-width="0.6"/>
<polyline points="462.40,13.50 462.40,15.50" fill="none" stroke="#444" stroke-width="0.6"/>
<polyline points="471.90,13.50 471.90,15.50" fill="none" stroke="#444" stroke-width="0.6"/>
<polyline points="561.70,0.80 561.70,4.30" fill="none" stroke="#444" stroke-width="0.6"/>
<polyline points="542.40,4.30 581.50,4.30" fill="none" stroke="#444" stroke-width="0.6"/>
<polyline points="581.50,4.30 581.50,15.50" fill="none" stroke="#444" stroke-width="0.6"/>
<polyline points="542.40,4.30 542.40,6.30" fill="none" stroke="#444" stroke-width="0.6"/>
<polyline points="522.70,6.30 562.50,6.30" fill="none" stroke="#444" stroke-width="0.6"/>
<polyline points="522.70,6.30 522.70,10.30" fill="none" stroke="#444" stroke-width="0.6"/>
<polyline points="514.20,10.30 530.60,10.30" fill="none" stroke="#444" stroke-width="0.6"/>
<polyline points="530.60,10.30 530.60,15.50" fill="none" stroke="#444" stroke-width="0.6"/>
<polyline points="514.20,10.30 514.20,12.20" fill="none" stroke="#444" stroke-width="0.6"/>
<polyline points="507.00,12.20 521.20,12.20" fill="none" stroke="#444" stroke-width="0.6"/>
<polyline points="521.20,12.20 521.20,15.50" fill="none" stroke="#444" stroke-width="0.6"/>
<polyline points="507.00,12.20 507.00,13.20" fill="none" stroke="#444" stroke-width="0.6"/>
<polyline points="502.20,13.20 511.70,13.20" fill="none" stroke="#444" stroke-width="0.6"/>
<polyline points="502.20,13.20 502.20,15.50" fill="none" stroke="#444" stroke-width="0.6"/>
<polyline points="511.70,13.20 511.70,15.50" fill="none" stroke="#444" stroke-width="0.6"/>
<polyline points="562.50,6.30 562.50,11.80" fill="none" stroke="#444" stroke-width="0.6"/>
<polyline points="555.00,11.80 570.40,11.80" fill="none" stroke="#444" stroke-width="0.6"/>
<polyline points="570.40,11.80 570.40,15.50" fill="none" stroke="#444" stroke-width="0.6"/>
<polyline points="555.00,11.80 555.00,12.80" fill="none" stroke="#444" stroke-width="0.6"/>
<polyline points="546.70,12.80 560.90,12.80" fill="none" stroke="#444" stroke-width="0.6"/>
<polyline points="560.90,12.80 560.90,15.50" fill="none" stroke="#444" stroke-width="0.6"/>
<polyline points="546.70,12.80 546.70,13.60" fill="none" stroke="#444" stroke-width="0.6"/>
<polyline points="541.90,13.60 551.40,13.60" fill="none" stroke="#444" stroke-width="0.6"/>
<polyline points="541.90,13.60 541.90,15.50" fill="none" stroke="#444" stroke-width="0.6"/>
<polyline points="551.40,13.60 551.40,15.50" fill="none" stroke="#444" stroke-width="0.6"/>
<polyline points="386.00,78.40 386.00,145.50" fill="none" stroke="#666" stroke-width="0.6"/>
<polyline points="386.00,78.40 400.50,78.40" fill="none" stroke="#666" stroke-width="0.6"/>
<polyline points="400.50,68.20 400.50,89.00" fill="none" stroke="#666" stroke-width="0.6"/>
<polyline points="400.50,68.20 406.00,68.20" fill="none" stroke="#666" stroke-width="0.6"/>
<polyline points="400.50,89.00 402.50,89.00" fill="none" stroke="#666" stroke-width="0.6"/>
<polyline points="402.50,78.00 402.50,100.00" fill="none" stroke="#666" stroke-width="0.6"/>
<polyline points="402.50,78.00 406.00,78.00" fill="none" stroke="#666" stroke-width="0.6"/>
<polyline points="402.50,88.00 406.00,88.00" fill="none" stroke="#666" stroke-width="0.6"/>
<polyline points="402.50,100.00 404.00,100.00" fill="none" stroke="#666" stroke-width="0.6"/>
<polyline points="404.00,97.50 404.00,126.80" fill="none" stroke="#666" stroke-width="0.6"/>
<polyline points="404.00,97.50 406.00,97.50" fill="none" stroke="#666" stroke-width="0.6"/>
<polyline points="404.00,107.30 406.00,107.30" fill="none" stroke="#666" stroke-width="0.6"/>
<polyline points="404.00,117.00 406.00,117.00" fill="none" stroke="#666" stroke-width="0.6"/>
<polyline points="404.00,126.80 406.00,126.80" fill="none" stroke="#666" stroke-width="0.6"/>
<polyline points="386.00,145.50 395.50,145.50" fill="none" stroke="#666" stroke-width="0.6"/>
<polyline points="395.50,138.30 395.50,153.00" fill="none" stroke="#666" stroke-width="0.6"/>
<polyline points="395.50,138.30 406.00,138.30" fill="none" stroke="#666" stroke-width="0.6"/>
<polyline points="395.50,153.00 399.00,153.00" fill="none" stroke="#666" stroke-width="0.6"/>
<polyline points="399.00,148.00 399.00,157.80" fill="none" stroke="#666" stroke-width="0.6"/>
<polyline points="399.00,148.00 406.00,148.00" fill="none" stroke="#666" stroke-width="0.6"/>
<polyline points="399.00,157.80 406.00,157.80" fill="none" stroke="#666" stroke-width="0.6"/>
<text x="629.00" y="24.00" font-size="8.6" text-anchor="middle" textLength="55.30" lengthAdjust="spacingAndGlyphs">Compositional</text>
<text x="629.10" y="34.00" font-size="8.6" text-anchor="middle" textLength="31.00" lengthAdjust="spacingAndGlyphs">variance</text>
<text x="629.10" y="44.00" font-size="8.6" text-anchor="middle" textLength="51.60" lengthAdjust="spacingAndGlyphs">explained (%)</text>
<text x="608.40" y="56.50" font-size="7.5" text-anchor="middle">0%</text>
<text x="654.60" y="56.50" font-size="7.5" text-anchor="middle">100%</text>
<line x1="608.40" y1="60.30" x2="654.60" y2="60.30" stroke="#333" stroke-width="0.6"/>
<line x1="608.40" y1="58.30" x2="608.40" y2="60.30" stroke="#333" stroke-width="0.6"/>
<line x1="631.50" y1="58.30" x2="631.50" y2="60.30" stroke="#333" stroke-width="0.6"/>
<line x1="654.60" y1="58.30" x2="654.60" y2="60.30" stroke="#333" stroke-width="0.6"/>
<rect x="608.40" y="63.40" width="3.70" height="9.73" fill="#F76D6D"/>
<rect x="612.10" y="63.40" width="6.01" height="9.73" fill="#CCCC33"/>
<rect x="618.10" y="63.40" width="12.94" height="9.73" fill="#1E8F1E"/>
<rect x="631.04" y="63.40" width="3.70" height="9.73" fill="#5656D0"/>
<rect x="634.73" y="63.40" width="19.87" height="9.73" fill="#CCCCCC"/>
<line x1="612.10" y1="63.40" x2="612.10" y2="73.13" stroke="#333" stroke-width="0.45"/>
<line x1="618.10" y1="63.40" x2="618.10" y2="73.13" stroke="#333" stroke-width="0.45"/>
<line x1="631.04" y1="63.40" x2="631.04" y2="73.13" stroke="#333" stroke-width="0.45"/>
<line x1="634.73" y1="63.40" x2="634.73" y2="73.13" stroke="#333" stroke-width="0.45"/>
<line x1="608.40" y1="63.40" x2="654.60" y2="63.40" stroke="#333" stroke-width="0.6"/>
<rect x="608.40" y="73.13" width="24.02" height="9.73" fill="#F76D6D"/>
<rect x="632.42" y="73.13" width="1.39" height="9.73" fill="#CCCC33"/>
<rect x="633.81" y="73.13" width="2.77" height="9.73" fill="#1E8F1E"/>
<rect x="636.58" y="73.13" width="4.16" height="9.73" fill="#00FFFF"/>
<rect x="640.74" y="73.13" width="13.86" height="9.73" fill="#CCCCCC"/>
<line x1="632.42" y1="73.13" x2="632.42" y2="82.86" stroke="#333" stroke-width="0.45"/>
<line x1="633.81" y1="73.13" x2="633.81" y2="82.86" stroke="#333" stroke-width="0.45"/>
<line x1="636.58" y1="73.13" x2="636.58" y2="82.86" stroke="#333" stroke-width="0.45"/>
<line x1="640.74" y1="73.13" x2="640.74" y2="82.86" stroke="#333" stroke-width="0.45"/>
<line x1="608.40" y1="73.13" x2="654.60" y2="73.13" stroke="#333" stroke-width="0.6"/>
<rect x="608.40" y="82.86" width="2.77" height="9.73" fill="#F76D6D"/>
<rect x="611.17" y="82.86" width="6.01" height="9.73" fill="#1E8F1E"/>
<rect x="617.18" y="82.86" width="2.77" height="9.73" fill="#993399"/>
<rect x="619.95" y="82.86" width="34.65" height="9.73" fill="#CCCCCC"/>
<line x1="611.17" y1="82.86" x2="611.17" y2="92.59" stroke="#333" stroke-width="0.45"/>
<line x1="617.18" y1="82.86" x2="617.18" y2="92.59" stroke="#333" stroke-width="0.45"/>
<line x1="619.95" y1="82.86" x2="619.95" y2="92.59" stroke="#333" stroke-width="0.45"/>
<line x1="608.40" y1="82.86" x2="654.60" y2="82.86" stroke="#333" stroke-width="0.6"/>
<rect x="608.40" y="92.59" width="18.48" height="9.73" fill="#F76D6D"/>
<rect x="626.88" y="92.59" width="1.39" height="9.73" fill="#CCCC33"/>
<rect x="628.27" y="92.59" width="4.62" height="9.73" fill="#1E8F1E"/>
<rect x="632.89" y="92.59" width="5.08" height="9.73" fill="#00FFFF"/>
<rect x="637.97" y="92.59" width="4.16" height="9.73" fill="#993399"/>
<rect x="642.13" y="92.59" width="12.47" height="9.73" fill="#CCCCCC"/>
<line x1="626.88" y1="92.59" x2="626.88" y2="102.32" stroke="#333" stroke-width="0.45"/>
<line x1="628.27" y1="92.59" x2="628.27" y2="102.32" stroke="#333" stroke-width="0.45"/>
<line x1="632.89" y1="92.59" x2="632.89" y2="102.32" stroke="#333" stroke-width="0.45"/>
<line x1="637.97" y1="92.59" x2="637.97" y2="102.32" stroke="#333" stroke-width="0.45"/>
<line x1="642.13" y1="92.59" x2="642.13" y2="102.32" stroke="#333" stroke-width="0.45"/>
<line x1="608.40" y1="92.59" x2="654.60" y2="92.59" stroke="#333" stroke-width="0.6"/>
<rect x="608.40" y="102.32" width="12.01" height="9.73" fill="#F76D6D"/>
<rect x="620.41" y="102.32" width="4.16" height="9.73" fill="#00FFFF"/>
<rect x="624.57" y="102.32" width="1.39" height="9.73" fill="#5656D0"/>
<rect x="625.96" y="102.32" width="6.47" height="9.73" fill="#993399"/>
<rect x="632.42" y="102.32" width="22.18" height="9.73" fill="#CCCCCC"/>
<line x1="620.41" y1="102.32" x2="620.41" y2="112.05" stroke="#333" stroke-width="0.45"/>
<line x1="624.57" y1="102.32" x2="624.57" y2="112.05" stroke="#333" stroke-width="0.45"/>
<line x1="625.96" y1="102.32" x2="625.96" y2="112.05" stroke="#333" stroke-width="0.45"/>
<line x1="632.42" y1="102.32" x2="632.42" y2="112.05" stroke="#333" stroke-width="0.45"/>
<line x1="608.40" y1="102.32" x2="654.60" y2="102.32" stroke="#333" stroke-width="0.6"/>
<rect x="608.40" y="112.05" width="24.02" height="9.73" fill="#F76D6D"/>
<rect x="632.42" y="112.05" width="5.54" height="9.73" fill="#CCCC33"/>
<rect x="637.97" y="112.05" width="1.39" height="9.73" fill="#1E8F1E"/>
<rect x="639.35" y="112.05" width="2.77" height="9.73" fill="#00FFFF"/>
<rect x="642.13" y="112.05" width="12.47" height="9.73" fill="#CCCCCC"/>
<line x1="632.42" y1="112.05" x2="632.42" y2="121.78" stroke="#333" stroke-width="0.45"/>
<line x1="637.97" y1="112.05" x2="637.97" y2="121.78" stroke="#333" stroke-width="0.45"/>
<line x1="639.35" y1="112.05" x2="639.35" y2="121.78" stroke="#333" stroke-width="0.45"/>
<line x1="642.13" y1="112.05" x2="642.13" y2="121.78" stroke="#333" stroke-width="0.45"/>
<line x1="608.40" y1="112.05" x2="654.60" y2="112.05" stroke="#333" stroke-width="0.6"/>
<rect x="608.40" y="121.78" width="13.86" height="9.73" fill="#F76D6D"/>
<rect x="622.26" y="121.78" width="6.93" height="9.73" fill="#1E8F1E"/>
<rect x="629.19" y="121.78" width="1.39" height="9.73" fill="#993399"/>
<rect x="630.58" y="121.78" width="24.02" height="9.73" fill="#CCCCCC"/>
<line x1="622.26" y1="121.78" x2="622.26" y2="131.51" stroke="#333" stroke-width="0.45"/>
<line x1="629.19" y1="121.78" x2="629.19" y2="131.51" stroke="#333" stroke-width="0.45"/>
<line x1="630.58" y1="121.78" x2="630.58" y2="131.51" stroke="#333" stroke-width="0.45"/>
<line x1="608.40" y1="121.78" x2="654.60" y2="121.78" stroke="#333" stroke-width="0.6"/>
<rect x="608.40" y="133.40" width="18.94" height="9.73" fill="#F76D6D"/>
<rect x="627.34" y="133.40" width="3.70" height="9.73" fill="#CCCC33"/>
<rect x="631.04" y="133.40" width="1.85" height="9.73" fill="#1E8F1E"/>
<rect x="632.89" y="133.40" width="0.46" height="9.73" fill="#111111"/>
<rect x="633.35" y="133.40" width="21.25" height="9.73" fill="#CCCCCC"/>
<line x1="627.34" y1="133.40" x2="627.34" y2="143.13" stroke="#333" stroke-width="0.45"/>
<line x1="631.04" y1="133.40" x2="631.04" y2="143.13" stroke="#333" stroke-width="0.45"/>
<line x1="632.89" y1="133.40" x2="632.89" y2="143.13" stroke="#333" stroke-width="0.45"/>
<line x1="633.35" y1="133.40" x2="633.35" y2="143.13" stroke="#333" stroke-width="0.45"/>
<line x1="608.40" y1="133.40" x2="654.60" y2="133.40" stroke="#333" stroke-width="0.6"/>
<rect x="608.40" y="143.13" width="24.02" height="9.73" fill="#F76D6D"/>
<rect x="632.42" y="143.13" width="2.31" height="9.73" fill="#1E8F1E"/>
<rect x="634.73" y="143.13" width="3.70" height="9.73" fill="#00FFFF"/>
<rect x="638.43" y="143.13" width="1.39" height="9.73" fill="#111111"/>
<rect x="639.82" y="143.13" width="14.78" height="9.73" fill="#CCCCCC"/>
<line x1="632.42" y1="143.13" x2="632.42" y2="152.86" stroke="#333" stroke-width="0.45"/>
<line x1="634.73" y1="143.13" x2="634.73" y2="152.86" stroke="#333" stroke-width="0.45"/>
<line x1="638.43" y1="143.13" x2="638.43" y2="152.86" stroke="#333" stroke-width="0.45"/>
<line x1="639.82" y1="143.13" x2="639.82" y2="152.86" stroke="#333" stroke-width="0.45"/>
<line x1="608.40" y1="143.13" x2="654.60" y2="143.13" stroke="#333" stroke-width="0.6"/>
<rect x="608.40" y="152.86" width="13.86" height="9.73" fill="#F76D6D"/>
<rect x="622.26" y="152.86" width="0.92" height="9.73" fill="#111111"/>
<rect x="623.18" y="152.86" width="31.42" height="9.73" fill="#CCCCCC"/>
<line x1="622.26" y1="152.86" x2="622.26" y2="162.59" stroke="#333" stroke-width="0.45"/>
<line x1="623.18" y1="152.86" x2="623.18" y2="162.59" stroke="#333" stroke-width="0.45"/>
<line x1="608.40" y1="152.86" x2="654.60" y2="152.86" stroke="#333" stroke-width="0.6"/>
<rect x="608.40" y="63.40" width="46.20" height="68.11" fill="none" stroke="#555" stroke-width="0.7"/>
<rect x="608.40" y="133.40" width="46.20" height="29.19" fill="none" stroke="#555" stroke-width="0.7"/>
<rect x="597.60" y="164.90" width="7.00" height="6.40" fill="#F76D6D" stroke="#555" stroke-width="0.4"/>
<text x="608.70" y="171.00" font-size="8.8" textLength="53.88" lengthAdjust="spacingAndGlyphs">Anatomic site</text>
<rect x="597.60" y="173.50" width="7.00" height="6.40" fill="#CCCC33" stroke="#555" stroke-width="0.4"/>
<text x="608.70" y="179.60" font-size="8.8" textLength="56.39" lengthAdjust="spacingAndGlyphs">Imaging batch</text>
<rect x="597.60" y="182.10" width="7.00" height="6.40" fill="#1E8F1E" stroke="#555" stroke-width="0.4"/>
<text x="608.70" y="188.20" font-size="8.8" textLength="35.92" lengthAdjust="spacingAndGlyphs">Donor ID</text>
<rect x="597.60" y="190.70" width="7.00" height="6.40" fill="#00FFFF" stroke="#555" stroke-width="0.4"/>
<text x="608.70" y="196.80" font-size="8.8" textLength="40.91" lengthAdjust="spacingAndGlyphs">Donor sex</text>
<rect x="597.60" y="199.30" width="7.00" height="6.40" fill="#5656D0" stroke="#555" stroke-width="0.4"/>
<text x="608.70" y="205.40" font-size="8.8" textLength="41.92" lengthAdjust="spacingAndGlyphs">Donor age</text>
<rect x="597.60" y="207.90" width="7.00" height="6.40" fill="#993399" stroke="#555" stroke-width="0.4"/>
<text x="608.70" y="214.00" font-size="8.8" textLength="74.98" lengthAdjust="spacingAndGlyphs">Tissue area (mm<tspan dy="-3" font-size="5.5">2</tspan><tspan dy="3">)</tspan></text>
<rect x="597.60" y="216.50" width="7.00" height="6.40" fill="#CCCCCC" stroke="#555" stroke-width="0.4"/>
<text x="608.70" y="222.60" font-size="8.8" textLength="62.86" lengthAdjust="spacingAndGlyphs">Model residuals</text>
<text x="-0.50" y="231.80" font-size="13" font-weight="bold" fill="#000">c</text>
<text x="57.90" y="232.80" font-size="8.5" textLength="212.50" lengthAdjust="spacingAndGlyphs">Neighborhood–neighborhood abundance correlation</text>
<circle cx="113.03" cy="291.02" r="3.50" fill="#f7b7b9"/>
<circle cx="113.03" cy="309.67" r="2.60" fill="#facfd0"/>
<circle cx="131.67" cy="309.67" r="4.20" fill="#f49799"/>
<circle cx="131.67" cy="309.67" r="0.72" fill="#111"/>
<circle cx="113.03" cy="328.32" r="3.60" fill="#f7b1b2"/>
<circle cx="131.67" cy="328.32" r="3.40" fill="#f7b7b9"/>
<circle cx="150.32" cy="328.32" r="4.00" fill="#f38c8f"/>
<circle cx="150.32" cy="328.32" r="0.72" fill="#111"/>
<circle cx="113.03" cy="346.97" r="6.80" fill="#6270b8"/>
<circle cx="113.03" cy="346.97" r="0.72" fill="#111"/>
<circle cx="131.67" cy="346.97" r="4.50" fill="#97a0cf"/>
<circle cx="131.67" cy="346.97" r="0.72" fill="#111"/>
<circle cx="150.32" cy="346.97" r="2.60" fill="#facfd0"/>
<circle cx="113.03" cy="365.62" r="6.80" fill="#6270b8"/>
<circle cx="113.03" cy="365.62" r="0.72" fill="#111"/>
<circle cx="131.67" cy="365.62" r="5.20" fill="#808bc5"/>
<circle cx="131.67" cy="365.62" r="0.72" fill="#111"/>
<circle cx="150.32" cy="365.62" r="3.90" fill="#c4c9e4"/>
<circle cx="168.97" cy="365.62" r="3.30" fill="#d8dced"/>
<circle cx="187.62" cy="365.62" r="7.50" fill="#ea3b3f"/>
<circle cx="187.62" cy="365.62" r="0.72" fill="#111"/>
<circle cx="113.03" cy="384.27" r="5.00" fill="#f49799"/>
<circle cx="113.03" cy="384.27" r="0.72" fill="#111"/>
<circle cx="150.32" cy="384.27" r="2.20" fill="#e0e2f1"/>
<circle cx="168.97" cy="384.27" r="3.50" fill="#c9cde6"/>
<circle cx="187.62" cy="384.27" r="5.90" fill="#939dce"/>
<circle cx="187.62" cy="384.27" r="0.72" fill="#111"/>
<circle cx="206.27" cy="384.27" r="6.30" fill="#7984c2"/>
<circle cx="206.27" cy="384.27" r="0.72" fill="#111"/>
<circle cx="113.03" cy="402.92" r="3.30" fill="#fbd7d8"/>
<circle cx="131.67" cy="402.92" r="3.20" fill="#e0e2f1"/>
<circle cx="150.32" cy="402.92" r="3.90" fill="#c2c7e3"/>
<circle cx="150.32" cy="402.92" r="0.72" fill="#111"/>
<circle cx="168.97" cy="402.92" r="6.40" fill="#6e7bbd"/>
<circle cx="168.97" cy="402.92" r="0.72" fill="#111"/>
<circle cx="187.62" cy="402.92" r="5.90" fill="#8893c9"/>
<circle cx="187.62" cy="402.92" r="0.72" fill="#111"/>
<circle cx="206.27" cy="402.92" r="5.20" fill="#a0a9d4"/>
<circle cx="206.27" cy="402.92" r="0.72" fill="#111"/>
<circle cx="224.92" cy="402.92" r="7.00" fill="#eb4246"/>
<circle cx="224.92" cy="402.92" r="0.72" fill="#111"/>
<circle cx="113.03" cy="421.57" r="3.30" fill="#dbdeee"/>
<circle cx="131.67" cy="421.57" r="3.70" fill="#bec4e1"/>
<circle cx="150.32" cy="421.57" r="5.50" fill="#8a94ca"/>
<circle cx="150.32" cy="421.57" r="0.72" fill="#111"/>
<circle cx="168.97" cy="421.57" r="7.00" fill="#5f6db6"/>
<circle cx="168.97" cy="421.57" r="0.72" fill="#111"/>
<circle cx="187.62" cy="421.57" r="3.90" fill="#c9cde6"/>
<circle cx="224.92" cy="421.57" r="4.50" fill="#f7b7b9"/>
<circle cx="224.92" cy="421.57" r="0.72" fill="#111"/>
<circle cx="243.57" cy="421.57" r="6.30" fill="#f06f71"/>
<circle cx="243.57" cy="421.57" r="0.72" fill="#111"/>
<circle cx="150.32" cy="440.22" r="3.50" fill="#c4c9e4"/>
<circle cx="168.97" cy="440.22" r="5.90" fill="#8893c9"/>
<circle cx="168.97" cy="440.22" r="0.72" fill="#111"/>
<circle cx="187.62" cy="440.22" r="5.60" fill="#97a0cf"/>
<circle cx="187.62" cy="440.22" r="0.72" fill="#111"/>
<circle cx="206.27" cy="440.22" r="3.90" fill="#b8bede"/>
<circle cx="206.27" cy="440.22" r="0.72" fill="#111"/>
<circle cx="224.92" cy="440.22" r="5.50" fill="#f17e81"/>
<circle cx="224.92" cy="440.22" r="0.72" fill="#111"/>
<circle cx="243.57" cy="440.22" r="6.80" fill="#ec4d50"/>
<circle cx="243.57" cy="440.22" r="0.72" fill="#111"/>
<circle cx="262.22" cy="440.22" r="5.90" fill="#f1787b"/>
<circle cx="262.22" cy="440.22" r="0.72" fill="#111"/>
<line x1="103.70" y1="281.70" x2="122.35" y2="281.70" stroke="#111" stroke-width="0.8"/>
<line x1="103.70" y1="300.35" x2="141.00" y2="300.35" stroke="#111" stroke-width="0.8"/>
<line x1="103.70" y1="319.00" x2="159.65" y2="319.00" stroke="#111" stroke-width="0.8"/>
<line x1="103.70" y1="337.65" x2="178.30" y2="337.65" stroke="#111" stroke-width="0.8"/>
<line x1="103.70" y1="356.30" x2="196.95" y2="356.30" stroke="#111" stroke-width="0.8"/>
<line x1="103.70" y1="374.95" x2="215.60" y2="374.95" stroke="#111" stroke-width="0.8"/>
<line x1="103.70" y1="393.60" x2="234.25" y2="393.60" stroke="#111" stroke-width="0.8"/>
<line x1="103.70" y1="412.25" x2="252.90" y2="412.25" stroke="#111" stroke-width="0.8"/>
<line x1="103.70" y1="430.90" x2="271.55" y2="430.90" stroke="#111" stroke-width="0.8"/>
<line x1="103.70" y1="449.55" x2="271.55" y2="449.55" stroke="#111" stroke-width="0.8"/>
<line x1="103.70" y1="281.70" x2="103.70" y2="449.55" stroke="#111" stroke-width="0.8"/>
<line x1="122.35" y1="281.70" x2="122.35" y2="449.55" stroke="#111" stroke-width="0.8"/>
<line x1="141.00" y1="300.35" x2="141.00" y2="449.55" stroke="#111" stroke-width="0.8"/>
<line x1="159.65" y1="319.00" x2="159.65" y2="449.55" stroke="#111" stroke-width="0.8"/>
<line x1="178.30" y1="337.65" x2="178.30" y2="449.55" stroke="#111" stroke-width="0.8"/>
<line x1="196.95" y1="356.30" x2="196.95" y2="449.55" stroke="#111" stroke-width="0.8"/>
<line x1="215.60" y1="374.95" x2="215.60" y2="449.55" stroke="#111" stroke-width="0.8"/>
<line x1="234.25" y1="393.60" x2="234.25" y2="449.55" stroke="#111" stroke-width="0.8"/>
<line x1="252.90" y1="412.25" x2="252.90" y2="449.55" stroke="#111" stroke-width="0.8"/>
<line x1="271.55" y1="430.90" x2="271.55" y2="449.55" stroke="#111" stroke-width="0.8"/>
<text x="100.50" y="294.12" font-size="8.8" text-anchor="end" textLength="35.64" lengthAdjust="spacingAndGlyphs">ECCRINE</text>
<text x="100.50" y="312.77" font-size="8.8" text-anchor="end" textLength="46.07" lengthAdjust="spacingAndGlyphs">PERIVASC II</text>
<text x="100.50" y="331.43" font-size="8.8" text-anchor="end" textLength="33.88" lengthAdjust="spacingAndGlyphs">STROMA</text>
<text x="100.50" y="350.07" font-size="8.8" text-anchor="end" textLength="14.96" lengthAdjust="spacingAndGlyphs">DEJ</text>
<text x="100.50" y="368.72" font-size="8.8" text-anchor="end" textLength="32.12" lengthAdjust="spacingAndGlyphs">DIFF IFE</text>
<text x="100.50" y="387.38" font-size="8.8" text-anchor="end" textLength="43.87" lengthAdjust="spacingAndGlyphs">PERIVASC I</text>
<text x="100.50" y="406.02" font-size="8.8" text-anchor="end" textLength="45.34" lengthAdjust="spacingAndGlyphs">SEB GLAND</text>
<text x="100.50" y="424.68" font-size="8.8" text-anchor="end" textLength="40.05" lengthAdjust="spacingAndGlyphs">UPPER HF</text>
<text x="100.50" y="443.32" font-size="8.8" text-anchor="end" textLength="41.80" lengthAdjust="spacingAndGlyphs">LOWER HF</text>
<text x="116.12" y="279.70" font-size="8.8" textLength="40.05" lengthAdjust="spacingAndGlyphs" transform="rotate(-90 116.12 279.70)">SUBCUTIS</text>
<text x="134.77" y="298.35" font-size="8.8" textLength="35.64" lengthAdjust="spacingAndGlyphs" transform="rotate(-90 134.77 298.35)">ECCRINE</text>
<text x="153.42" y="317.00" font-size="8.8" textLength="46.07" lengthAdjust="spacingAndGlyphs" transform="rotate(-90 153.42 317.00)">PERIVASC II</text>
<text x="172.07" y="335.65" font-size="8.8" textLength="33.88" lengthAdjust="spacingAndGlyphs" transform="rotate(-90 172.07 335.65)">STROMA</text>
<text x="190.72" y="354.30" font-size="8.8" textLength="14.96" lengthAdjust="spacingAndGlyphs" transform="rotate(-90 190.72 354.30)">DEJ</text>
<text x="209.37" y="372.95" font-size="8.8" textLength="32.12" lengthAdjust="spacingAndGlyphs" transform="rotate(-90 209.37 372.95)">DIFF IFE</text>
<text x="228.02" y="391.60" font-size="8.8" textLength="43.87" lengthAdjust="spacingAndGlyphs" transform="rotate(-90 228.02 391.60)">PERIVASC I</text>
<text x="246.67" y="410.25" font-size="8.8" textLength="45.34" lengthAdjust="spacingAndGlyphs" transform="rotate(-90 246.67 410.25)">SEB GLAND</text>
<text x="265.32" y="428.90" font-size="8.8" textLength="40.05" lengthAdjust="spacingAndGlyphs" transform="rotate(-90 265.32 428.90)">UPPER HF</text>
<text x="175.60" y="255.40" font-size="8.8" textLength="102.00" lengthAdjust="spacingAndGlyphs">Correlation magnitude |<tspan font-style="italic">ρ</tspan>|</text>
<circle cx="170.80" cy="267.10" r="1.70" fill="#000"/>
<text x="176.10" y="269.90" font-size="7.6">0.25</text>
<circle cx="197.60" cy="267.10" r="3.60" fill="#000"/>
<text x="204.60" y="269.90" font-size="7.6">0.50</text>
<circle cx="228.70" cy="267.10" r="5.20" fill="#000"/>
<text x="236.90" y="269.90" font-size="7.6">0.75</text>
<circle cx="264.00" cy="267.10" r="7.10" fill="#000"/>
<text x="272.00" y="269.90" font-size="7.6">1.0</text>
<rect x="103.50" y="453.10" width="8.55" height="5.60" fill="#4252a9"/>
<rect x="111.90" y="453.10" width="8.55" height="5.60" fill="#5261b0"/>
<rect x="120.30" y="453.10" width="8.55" height="5.60" fill="#6270b8"/>
<rect x="128.70" y="453.10" width="8.55" height="5.60" fill="#737fbf"/>
<rect x="137.10" y="453.10" width="8.55" height="5.60" fill="#858fc7"/>
<rect x="145.50" y="453.10" width="8.55" height="5.60" fill="#97a0cf"/>
<rect x="153.90" y="453.10" width="8.55" height="5.60" fill="#aab1d8"/>
<rect x="162.30" y="453.10" width="8.55" height="5.60" fill="#bec4e1"/>
<rect x="170.70" y="453.10" width="8.55" height="5.60" fill="#d4d8eb"/>
<rect x="179.10" y="453.10" width="8.55" height="5.60" fill="#edeff7"/>
<rect x="187.50" y="453.10" width="8.55" height="5.60" fill="#fdebec"/>
<rect x="195.90" y="453.10" width="8.55" height="5.60" fill="#facfd0"/>
<rect x="204.30" y="453.10" width="8.55" height="5.60" fill="#f7b7b9"/>
<rect x="212.70" y="453.10" width="8.55" height="5.60" fill="#f5a1a3"/>
<rect x="221.10" y="453.10" width="8.55" height="5.60" fill="#f38c8f"/>
<rect x="229.50" y="453.10" width="8.55" height="5.60" fill="#f1787b"/>
<rect x="237.90" y="453.10" width="8.55" height="5.60" fill="#ef6568"/>
<rect x="246.30" y="453.10" width="8.55" height="5.60" fill="#ed5356"/>
<rect x="254.70" y="453.10" width="8.55" height="5.60" fill="#eb4044"/>
<rect x="263.10" y="453.10" width="8.55" height="5.60" fill="#e92f33"/>
<line x1="103.50" y1="458.70" x2="103.50" y2="460.60" stroke="#333" stroke-width="0.5"/>
<text x="103.50" y="469.60" font-size="7.2" text-anchor="middle">−1.0</text>
<line x1="120.30" y1="458.70" x2="120.30" y2="460.60" stroke="#333" stroke-width="0.5"/>
<text x="120.30" y="469.60" font-size="7.2" text-anchor="middle">−0.8</text>
<line x1="137.10" y1="458.70" x2="137.10" y2="460.60" stroke="#333" stroke-width="0.5"/>
<text x="137.10" y="469.60" font-size="7.2" text-anchor="middle">−0.6</text>
<line x1="153.90" y1="458.70" x2="153.90" y2="460.60" stroke="#333" stroke-width="0.5"/>
<text x="153.90" y="469.60" font-size="7.2" text-anchor="middle">−0.4</text>
<line x1="170.70" y1="458.70" x2="170.70" y2="460.60" stroke="#333" stroke-width="0.5"/>
<text x="170.70" y="469.60" font-size="7.2" text-anchor="middle">−0.2</text>
<line x1="187.50" y1="458.70" x2="187.50" y2="460.60" stroke="#333" stroke-width="0.5"/>
<text x="187.50" y="469.60" font-size="7.2" text-anchor="middle">0</text>
<line x1="204.30" y1="458.70" x2="204.30" y2="460.60" stroke="#333" stroke-width="0.5"/>
<text x="204.30" y="469.60" font-size="7.2" text-anchor="middle">0.2</text>
<line x1="221.10" y1="458.70" x2="221.10" y2="460.60" stroke="#333" stroke-width="0.5"/>
<text x="221.10" y="469.60" font-size="7.2" text-anchor="middle">0.4</text>
<line x1="237.90" y1="458.70" x2="237.90" y2="460.60" stroke="#333" stroke-width="0.5"/>
<text x="237.90" y="469.60" font-size="7.2" text-anchor="middle">0.6</text>
<line x1="254.70" y1="458.70" x2="254.70" y2="460.60" stroke="#333" stroke-width="0.5"/>
<text x="254.70" y="469.60" font-size="7.2" text-anchor="middle">0.8</text>
<line x1="271.50" y1="458.70" x2="271.50" y2="460.60" stroke="#333" stroke-width="0.5"/>
<text x="271.50" y="469.60" font-size="7.2" text-anchor="middle">1.0</text>
<text x="56.40" y="459.80" font-size="8.8" textLength="36.20" lengthAdjust="spacingAndGlyphs">*<tspan font-style="italic">P</tspan> &lt; 0.05</text>
<text x="306.30" y="231.80" font-size="13" font-weight="bold" fill="#000">d</text>
<text x="378.20" y="232.30" font-size="8.5" textLength="232.90" lengthAdjust="spacingAndGlyphs">Age and neighborhood abundance correlation (abdomen)</text>
<rect x="354.90" y="241.10" width="27.56" height="22.40" fill="#2463A8" stroke="#333" stroke-width="0.6"/>
<text x="368.68" y="255.00" font-size="7.6" text-anchor="middle">−0.695</text>
<text x="373.18" y="268.60" font-size="8.0" text-anchor="end" textLength="30.80" lengthAdjust="spacingAndGlyphs" transform="rotate(-45 373.18 268.60)">STROMA</text>
<rect x="382.46" y="241.10" width="27.56" height="22.40" fill="#78B0D8" stroke="#333" stroke-width="0.6"/>
<text x="396.24" y="255.00" font-size="7.6" text-anchor="middle">−0.359</text>
<text x="400.74" y="268.60" font-size="8.0" text-anchor="end" textLength="40.28" lengthAdjust="spacingAndGlyphs" transform="rotate(-45 400.74 268.60)">PERIVASC-I</text>
<rect x="410.02" y="241.10" width="27.56" height="22.40" fill="#DAE2E8" stroke="#333" stroke-width="0.6"/>
<text x="423.80" y="255.00" font-size="7.6" text-anchor="middle">−0.036</text>
<text x="428.30" y="268.60" font-size="8.0" text-anchor="end" textLength="37.86" lengthAdjust="spacingAndGlyphs" transform="rotate(-45 428.30 268.60)">LWER-HFO</text>
<rect x="437.58" y="241.10" width="27.56" height="22.40" fill="#E6E0DC" stroke="#333" stroke-width="0.6"/>
<text x="451.36" y="255.00" font-size="7.6" text-anchor="middle">0.011</text>
<text x="455.86" y="268.60" font-size="8.0" text-anchor="end" textLength="32.40" lengthAdjust="spacingAndGlyphs" transform="rotate(-45 455.86 268.60)">ECCRINE</text>
<rect x="465.14" y="241.10" width="27.56" height="22.40" fill="#F0DDD3" stroke="#333" stroke-width="0.6"/>
<text x="478.92" y="255.00" font-size="7.6" text-anchor="middle">0.055</text>
<text x="483.42" y="268.60" font-size="8.0" text-anchor="end" textLength="36.80" lengthAdjust="spacingAndGlyphs" transform="rotate(-45 483.42 268.60)">UPPER-HF</text>
<rect x="492.70" y="241.10" width="27.56" height="22.40" fill="#F7D6C6" stroke="#333" stroke-width="0.6"/>
<text x="506.48" y="255.00" font-size="7.6" text-anchor="middle">0.108</text>
<text x="510.98" y="268.60" font-size="8.0" text-anchor="end" textLength="29.60" lengthAdjust="spacingAndGlyphs" transform="rotate(-45 510.98 268.60)">DIFF-IFE</text>
<rect x="520.26" y="241.10" width="27.56" height="22.40" fill="#F7C4AB" stroke="#333" stroke-width="0.6"/>
<text x="534.04" y="255.00" font-size="7.6" text-anchor="middle">0.171</text>
<text x="538.54" y="268.60" font-size="8.0" text-anchor="end" textLength="36.41" lengthAdjust="spacingAndGlyphs" transform="rotate(-45 538.54 268.60)">SUBCUTIS</text>
<rect x="547.82" y="241.10" width="27.56" height="22.40" fill="#F0A383" stroke="#333" stroke-width="0.6"/>
<text x="561.60" y="255.00" font-size="7.6" text-anchor="middle">0.285</text>
<text x="566.10" y="268.60" font-size="8.0" text-anchor="end" textLength="41.61" lengthAdjust="spacingAndGlyphs" transform="rotate(-45 566.10 268.60)">SEB-GLAND</text>
<rect x="575.38" y="241.10" width="27.56" height="22.40" fill="#D9694F" stroke="#333" stroke-width="0.6"/>
<text x="589.16" y="255.00" font-size="7.6" text-anchor="middle">0.45</text>
<text x="593.66" y="268.60" font-size="8.0" text-anchor="end" textLength="13.60" lengthAdjust="spacingAndGlyphs" transform="rotate(-45 593.66 268.60)">DEJ</text>
<rect x="602.94" y="241.10" width="27.56" height="22.40" fill="#B01D2E" stroke="#333" stroke-width="0.6"/>
<text x="616.72" y="255.00" font-size="7.6" text-anchor="middle">0.701</text>
<text x="621.22" y="268.60" font-size="8.0" text-anchor="end" textLength="42.28" lengthAdjust="spacingAndGlyphs" transform="rotate(-45 621.22 268.60)">PERIVASC-II</text>
<rect x="354.90" y="241.10" width="27.56" height="22.40" fill="none" stroke="#000" stroke-width="1.5"/>
<rect x="602.94" y="241.10" width="27.56" height="22.40" fill="none" stroke="#000" stroke-width="1.5"/>
<rect x="608.90" y="303.00" width="6.60" height="6.60" fill="none" stroke="#000" stroke-width="1.4"/>
<text x="619.40" y="308.60" font-size="8.8"><tspan font-style="italic">P</tspan> &lt; 0.05</text>
<text x="300.40" y="322.90" font-size="13" font-weight="bold" fill="#000">e</text>
<path d="M344.00,324.20 C347.00,327.17 355.93,336.55 362.00,342.00 C368.07,347.45 372.58,351.80 380.40,356.90 C388.22,362.00 399.80,368.50 408.90,372.60 C418.00,376.70 426.57,379.13 435.00,381.50 C443.43,383.87 455.42,385.92 459.50,386.80 L459.50,442.30 C455.42,437.92 443.43,423.12 435.00,416.00 C426.57,408.88 416.40,403.68 408.90,399.60 C401.40,395.52 396.65,393.87 390.00,391.50 C383.35,389.13 376.67,388.42 369.00,385.40 C361.33,382.38 348.17,375.40 344.00,373.40 Z" fill="#D6D6D6"/>
<line x1="344.00" y1="349.00" x2="459.50" y2="415.30" stroke="#E41A1C" stroke-width="1.5"/>
<circle cx="344.00" cy="349.20" r="1.40" fill="#000"/>
<circle cx="376.40" cy="321.60" r="1.40" fill="#000"/>
<circle cx="372.10" cy="340.10" r="1.40" fill="#000"/>
<circle cx="372.10" cy="360.10" r="1.40" fill="#000"/>
<circle cx="366.20" cy="384.50" r="1.40" fill="#000"/>
<circle cx="368.20" cy="392.80" r="1.40" fill="#000"/>
<circle cx="408.90" cy="374.00" r="1.40" fill="#000"/>
<circle cx="402.60" cy="388.50" r="1.40" fill="#000"/>
<circle cx="408.90" cy="389.70" r="1.40" fill="#000"/>
<circle cx="419.10" cy="400.50" r="1.40" fill="#000"/>
<circle cx="419.10" cy="415.00" r="1.40" fill="#000"/>
<circle cx="449.60" cy="410.70" r="1.40" fill="#000"/>
<circle cx="459.50" cy="403.90" r="1.40" fill="#000"/>
<line x1="337.70" y1="315.70" x2="337.70" y2="449.40" stroke="#444" stroke-width="0.8"/>
<line x1="337.70" y1="449.40" x2="465.20" y2="449.40" stroke="#444" stroke-width="0.8"/>
<line x1="335.50" y1="319.90" x2="337.70" y2="319.90" stroke="#444" stroke-width="0.7"/>
<text x="331.10" y="322.80" font-size="8.6" text-anchor="end" textLength="11.00" lengthAdjust="spacingAndGlyphs">0.5</text>
<line x1="335.50" y1="340.40" x2="337.70" y2="340.40" stroke="#444" stroke-width="0.7"/>
<text x="331.10" y="343.30" font-size="8.6" text-anchor="end" textLength="11.00" lengthAdjust="spacingAndGlyphs">0.4</text>
<line x1="335.50" y1="360.90" x2="337.70" y2="360.90" stroke="#444" stroke-width="0.7"/>
<text x="331.10" y="363.80" font-size="8.6" text-anchor="end" textLength="11.00" lengthAdjust="spacingAndGlyphs">0.3</text>
<line x1="335.50" y1="381.40" x2="337.70" y2="381.40" stroke="#444" stroke-width="0.7"/>
<text x="331.10" y="384.30" font-size="8.6" text-anchor="end" textLength="11.00" lengthAdjust="spacingAndGlyphs">0.2</text>
<line x1="335.50" y1="401.90" x2="337.70" y2="401.90" stroke="#444" stroke-width="0.7"/>
<text x="331.10" y="404.80" font-size="8.6" text-anchor="end" textLength="11.00" lengthAdjust="spacingAndGlyphs">0.1</text>
<line x1="335.50" y1="422.40" x2="337.70" y2="422.40" stroke="#444" stroke-width="0.7"/>
<text x="331.10" y="425.30" font-size="8.6" text-anchor="end" textLength="4.40" lengthAdjust="spacingAndGlyphs">0</text>
<line x1="335.50" y1="442.90" x2="337.70" y2="442.90" stroke="#444" stroke-width="0.7"/>
<text x="331.10" y="445.80" font-size="8.6" text-anchor="end" textLength="15.62" lengthAdjust="spacingAndGlyphs">−0.1</text>
<line x1="374.70" y1="449.40" x2="374.70" y2="451.80" stroke="#444" stroke-width="0.7"/>
<text x="374.70" y="461.00" font-size="8.6" text-anchor="middle" textLength="8.90" lengthAdjust="spacingAndGlyphs">40</text>
<line x1="415.10" y1="449.40" x2="415.10" y2="451.80" stroke="#444" stroke-width="0.7"/>
<text x="415.10" y="461.00" font-size="8.6" text-anchor="middle" textLength="8.90" lengthAdjust="spacingAndGlyphs">60</text>
<line x1="455.80" y1="449.40" x2="455.80" y2="451.80" stroke="#444" stroke-width="0.7"/>
<text x="455.80" y="461.00" font-size="8.6" text-anchor="middle" textLength="8.90" lengthAdjust="spacingAndGlyphs">80</text>
<text x="403.20" y="473.80" font-size="8.8" text-anchor="middle">Age</text>
<text x="314.50" y="379.70" font-size="8.8" text-anchor="middle" textLength="82.60" lengthAdjust="spacingAndGlyphs" transform="rotate(-90 314.50 379.70)">STROMA proportion</text>
<text x="343.40" y="433.80" font-size="7.3" textLength="69.70" lengthAdjust="spacingAndGlyphs">Spearman = −0.6952</text>
<text x="343.40" y="441.90" font-size="7.3" textLength="36.80" lengthAdjust="spacingAndGlyphs">P = 0.0083</text>
<text x="488.20" y="322.90" font-size="13" font-weight="bold" fill="#000">f</text>
<path d="M539.80,388.80 C542.83,388.42 552.07,387.55 558.00,386.50 C563.93,385.45 570.07,384.58 575.40,382.50 C580.73,380.42 585.25,377.55 590.00,374.00 C594.75,370.45 597.23,366.87 603.90,361.20 C610.57,355.53 620.80,346.65 630.00,340.00 C639.20,333.35 654.25,324.42 659.10,321.30 L659.10,382.50 C654.63,382.88 641.50,382.90 632.30,384.80 C623.10,386.70 613.38,389.30 603.90,393.90 C594.42,398.50 583.05,407.22 575.40,412.40 C567.75,417.58 563.93,420.02 558.00,425.00 C552.07,429.98 542.83,439.42 539.80,442.30 Z" fill="#D6D6D6"/>
<line x1="539.80" y1="415.30" x2="659.10" y2="352.10" stroke="#E41A1C" stroke-width="1.5"/>
<circle cx="539.80" cy="412.40" r="1.40" fill="#000"/>
<circle cx="562.90" cy="391.70" r="1.40" fill="#000"/>
<circle cx="564.90" cy="402.50" r="1.40" fill="#000"/>
<circle cx="568.90" cy="401.10" r="1.40" fill="#000"/>
<circle cx="568.90" cy="419.00" r="1.40" fill="#000"/>
<circle cx="573.10" cy="423.80" r="1.40" fill="#000"/>
<circle cx="600.20" cy="400.20" r="1.40" fill="#000"/>
<circle cx="606.70" cy="327.30" r="1.40" fill="#000"/>
<circle cx="606.70" cy="384.80" r="1.40" fill="#000"/>
<circle cx="617.00" cy="357.80" r="1.40" fill="#000"/>
<circle cx="617.00" cy="374.00" r="1.40" fill="#000"/>
<circle cx="648.60" cy="340.40" r="1.40" fill="#000"/>
<circle cx="659.10" cy="386.80" r="1.40" fill="#000"/>
<line x1="533.60" y1="315.70" x2="533.60" y2="448.90" stroke="#444" stroke-width="0.8"/>
<line x1="533.60" y1="448.90" x2="664.20" y2="448.90" stroke="#444" stroke-width="0.8"/>
<line x1="531.40" y1="322.80" x2="533.60" y2="322.80" stroke="#444" stroke-width="0.7"/>
<text x="527.00" y="325.70" font-size="8.6" text-anchor="end" textLength="11.00" lengthAdjust="spacingAndGlyphs">0.3</text>
<line x1="531.40" y1="367.70" x2="533.60" y2="367.70" stroke="#444" stroke-width="0.7"/>
<text x="527.00" y="370.60" font-size="8.6" text-anchor="end" textLength="11.00" lengthAdjust="spacingAndGlyphs">0.2</text>
<line x1="531.40" y1="413.30" x2="533.60" y2="413.30" stroke="#444" stroke-width="0.7"/>
<text x="527.00" y="416.20" font-size="8.6" text-anchor="end" textLength="11.00" lengthAdjust="spacingAndGlyphs">0.1</text>
<line x1="572.00" y1="448.90" x2="572.00" y2="451.30" stroke="#444" stroke-width="0.7"/>
<text x="572.00" y="460.50" font-size="8.6" text-anchor="middle" textLength="8.90" lengthAdjust="spacingAndGlyphs">40</text>
<line x1="613.80" y1="448.90" x2="613.80" y2="451.30" stroke="#444" stroke-width="0.7"/>
<text x="613.80" y="460.50" font-size="8.6" text-anchor="middle" textLength="8.90" lengthAdjust="spacingAndGlyphs">60</text>
<line x1="655.70" y1="448.90" x2="655.70" y2="451.30" stroke="#444" stroke-width="0.7"/>
<text x="655.70" y="460.50" font-size="8.6" text-anchor="middle" textLength="8.90" lengthAdjust="spacingAndGlyphs">80</text>
<text x="601.00" y="473.30" font-size="8.8" text-anchor="middle">Age</text>
<text x="509.50" y="374.00" font-size="8.8" text-anchor="middle" textLength="94.00" lengthAdjust="spacingAndGlyphs" transform="rotate(-90 509.50 374.00)">PERIVASC II proportion</text>
<text x="593.00" y="436.00" font-size="7.3" textLength="67.20" lengthAdjust="spacingAndGlyphs">Spearman = 0.7007</text>
<text x="593.00" y="444.10" font-size="7.3" textLength="36.80" lengthAdjust="spacingAndGlyphs"><tspan font-style="italic">P</tspan> = 0.0076</text>
<text x="-0.50" y="490.30" font-size="13" font-weight="bold" fill="#000">g</text>
<text x="340.30" y="491.00" font-size="8.5" text-anchor="middle" textLength="211.30" lengthAdjust="spacingAndGlyphs">Age and cell-type-abundance correlation (abdomen)</text>
<rect x="20.70" y="497.50" width="14.28" height="28.90" fill="#3a7cbc" stroke="#333" stroke-width="0.6"/>
<text x="29.94" y="511.95" font-size="7.3" text-anchor="middle" transform="rotate(-90 29.94 511.95)">−0.673</text>
<text x="30.14" y="529.60" font-size="8.5" text-anchor="end" textLength="12.04" lengthAdjust="spacingAndGlyphs" transform="rotate(-90 30.14 529.60)">DS</text>
<rect x="34.98" y="497.50" width="14.28" height="28.90" fill="#4488c2" stroke="#333" stroke-width="0.6"/>
<text x="44.22" y="511.95" font-size="7.3" text-anchor="middle" transform="rotate(-90 44.22 511.95)">−0.574</text>
<text x="44.42" y="529.60" font-size="8.5" text-anchor="end" textLength="18.79" lengthAdjust="spacingAndGlyphs" transform="rotate(-90 44.42 529.60)">Mast</text>
<rect x="49.26" y="497.50" width="14.28" height="28.90" fill="#5597cb" stroke="#333" stroke-width="0.6"/>
<text x="58.50" y="511.95" font-size="7.3" text-anchor="middle" transform="rotate(-90 58.50 511.95)">−0.513</text>
<text x="58.70" y="529.60" font-size="8.5" text-anchor="end" textLength="39.02" lengthAdjust="spacingAndGlyphs" transform="rotate(-90 58.70 529.60)">Retic Fib I</text>
<rect x="63.54" y="497.50" width="14.28" height="28.90" fill="#5698cb" stroke="#333" stroke-width="0.6"/>
<text x="72.78" y="511.95" font-size="7.3" text-anchor="middle" transform="rotate(-90 72.78 511.95)">−0.51</text>
<text x="72.98" y="529.60" font-size="8.5" text-anchor="end" textLength="48.19" lengthAdjust="spacingAndGlyphs" transform="rotate(-90 72.98 529.60)">CLEC9A DC</text>
<rect x="77.82" y="497.50" width="14.28" height="28.90" fill="#5b9ccd" stroke="#333" stroke-width="0.6"/>
<text x="87.06" y="511.95" font-size="7.3" text-anchor="middle" transform="rotate(-90 87.06 511.95)">−0.488</text>
<text x="87.26" y="529.60" font-size="8.5" text-anchor="end" textLength="38.54" lengthAdjust="spacingAndGlyphs" transform="rotate(-90 87.26 529.60)">CD1C DC</text>
<rect x="92.10" y="497.50" width="14.28" height="28.90" fill="#95c3e0" stroke="#333" stroke-width="0.6"/>
<text x="101.34" y="511.95" font-size="7.3" text-anchor="middle" transform="rotate(-90 101.34 511.95)">−0.309</text>
<text x="101.54" y="529.60" font-size="8.5" text-anchor="end" textLength="28.91" lengthAdjust="spacingAndGlyphs" transform="rotate(-90 101.54 529.60)">Plasma</text>
<rect x="106.38" y="497.50" width="14.28" height="28.90" fill="#9dc7e2" stroke="#333" stroke-width="0.6"/>
<text x="115.62" y="511.95" font-size="7.3" text-anchor="middle" transform="rotate(-90 115.62 511.95)">−0.29</text>
<text x="115.82" y="529.60" font-size="8.5" text-anchor="end" textLength="31.50" lengthAdjust="spacingAndGlyphs" transform="rotate(-90 115.82 529.60)">CD4 T<tspan font-size="6" dy="1.8">reg</tspan></text>
<rect x="120.66" y="497.50" width="14.28" height="28.90" fill="#a1cae3" stroke="#333" stroke-width="0.6"/>
<text x="129.90" y="511.95" font-size="7.3" text-anchor="middle" transform="rotate(-90 129.90 511.95)">−0.279</text>
<text x="130.10" y="529.60" font-size="8.5" text-anchor="end" textLength="41.43" lengthAdjust="spacingAndGlyphs" transform="rotate(-90 130.10 529.60)">Retic Fib II</text>
<rect x="134.94" y="497.50" width="14.28" height="28.90" fill="#a3cbe3" stroke="#333" stroke-width="0.6"/>
<text x="144.18" y="511.95" font-size="7.3" text-anchor="middle" transform="rotate(-90 144.18 511.95)">−0.273</text>
<text x="144.38" y="529.60" font-size="8.5" text-anchor="end" textLength="29.72" lengthAdjust="spacingAndGlyphs" transform="rotate(-90 144.38 529.60)">Naive T</text>
<rect x="149.22" y="497.50" width="14.28" height="28.90" fill="#afd2e6" stroke="#333" stroke-width="0.6"/>
<text x="158.46" y="511.95" font-size="7.3" text-anchor="middle" transform="rotate(-90 158.46 511.95)">−0.237</text>
<text x="158.66" y="529.60" font-size="8.5" text-anchor="end" textLength="28.40" lengthAdjust="spacingAndGlyphs" transform="rotate(-90 158.66 529.60)">CD8 T<tspan font-size="6" dy="1.8">C</tspan></text>
<rect x="163.50" y="497.50" width="14.28" height="28.90" fill="#b1d3e6" stroke="#333" stroke-width="0.6"/>
<text x="172.74" y="511.95" font-size="7.3" text-anchor="middle" transform="rotate(-90 172.74 511.95)">−0.232</text>
<text x="172.94" y="529.60" font-size="8.5" text-anchor="end" textLength="16.87" lengthAdjust="spacingAndGlyphs" transform="rotate(-90 172.94 529.60)">LEC</text>
<rect x="177.78" y="497.50" width="14.28" height="28.90" fill="#bcd8e9" stroke="#333" stroke-width="0.6"/>
<text x="187.02" y="511.95" font-size="7.3" text-anchor="middle" transform="rotate(-90 187.02 511.95)">−0.199</text>
<text x="187.22" y="529.60" font-size="8.5" text-anchor="end" textLength="34.19" lengthAdjust="spacingAndGlyphs" transform="rotate(-90 187.22 529.60)">Cyc Imm</text>
<rect x="192.06" y="497.50" width="14.28" height="28.90" fill="#c9dfec" stroke="#333" stroke-width="0.6"/>
<text x="201.30" y="511.95" font-size="7.3" text-anchor="middle" transform="rotate(-90 201.30 511.95)">−0.164</text>
<text x="201.50" y="529.60" font-size="8.5" text-anchor="end" textLength="21.69" lengthAdjust="spacingAndGlyphs" transform="rotate(-90 201.50 529.60)">Mono</text>
<rect x="206.34" y="497.50" width="14.28" height="28.90" fill="#cde1ec" stroke="#333" stroke-width="0.6"/>
<text x="215.58" y="511.95" font-size="7.3" text-anchor="middle" transform="rotate(-90 215.58 511.95)">−0.152</text>
<text x="215.78" y="529.60" font-size="8.5" text-anchor="end" textLength="54.93" lengthAdjust="spacingAndGlyphs" transform="rotate(-90 215.78 529.60)">Perivasc Fib II</text>
<rect x="220.62" y="497.50" width="14.28" height="28.90" fill="#cee2ec" stroke="#333" stroke-width="0.6"/>
<text x="229.86" y="511.95" font-size="7.3" text-anchor="middle" transform="rotate(-90 229.86 511.95)">−0.149</text>
<text x="230.06" y="529.60" font-size="8.5" text-anchor="end" textLength="34.70" lengthAdjust="spacingAndGlyphs" transform="rotate(-90 230.06 529.60)">Spn KC I</text>
<rect x="234.90" y="497.50" width="14.28" height="28.90" fill="#cfe2ec" stroke="#333" stroke-width="0.6"/>
<text x="244.14" y="511.95" font-size="7.3" text-anchor="middle" transform="rotate(-90 244.14 511.95)">−0.146</text>
<text x="244.34" y="529.60" font-size="8.5" text-anchor="end" textLength="33.73" lengthAdjust="spacingAndGlyphs" transform="rotate(-90 244.34 529.60)">Papil Fib</text>
<rect x="249.18" y="497.50" width="14.28" height="28.90" fill="#d9e5ec" stroke="#333" stroke-width="0.6"/>
<text x="258.42" y="511.95" font-size="7.3" text-anchor="middle" transform="rotate(-90 258.42 511.95)">−0.11</text>
<text x="258.62" y="529.60" font-size="8.5" text-anchor="end" textLength="29.39" lengthAdjust="spacingAndGlyphs" transform="rotate(-90 258.62 529.60)">Bas KC</text>
<rect x="263.46" y="497.50" width="14.28" height="28.90" fill="#dde6eb" stroke="#333" stroke-width="0.6"/>
<text x="272.70" y="511.95" font-size="7.3" text-anchor="middle" transform="rotate(-90 272.70 511.95)">−0.099</text>
<text x="272.90" y="529.60" font-size="8.5" text-anchor="end" textLength="52.52" lengthAdjust="spacingAndGlyphs" transform="rotate(-90 272.90 529.60)">Perivasc Fib I</text>
<rect x="277.74" y="497.50" width="14.28" height="28.90" fill="#dde6eb" stroke="#333" stroke-width="0.6"/>
<text x="286.98" y="511.95" font-size="7.3" text-anchor="middle" transform="rotate(-90 286.98 511.95)">−0.099</text>
<text x="287.18" y="529.60" font-size="8.5" text-anchor="end" textLength="22.18" lengthAdjust="spacingAndGlyphs" transform="rotate(-90 287.18 529.60)">Adipo</text>
<rect x="292.02" y="497.50" width="14.28" height="28.90" fill="#e0e6ea" stroke="#333" stroke-width="0.6"/>
<text x="301.26" y="511.95" font-size="7.3" text-anchor="middle" transform="rotate(-90 301.26 511.95)">−0.072</text>
<text x="301.46" y="529.60" font-size="8.5" text-anchor="end" textLength="26.99" lengthAdjust="spacingAndGlyphs" transform="rotate(-90 301.46 529.60)">Bas Inf</text>
<rect x="306.30" y="497.50" width="14.28" height="28.90" fill="#e3e5e6" stroke="#333" stroke-width="0.6"/>
<text x="315.54" y="511.95" font-size="7.3" text-anchor="middle" transform="rotate(-90 315.54 511.95)">−0.041</text>
<text x="315.74" y="529.60" font-size="8.5" text-anchor="end" textLength="29.38" lengthAdjust="spacingAndGlyphs" transform="rotate(-90 315.74 529.60)">Cyc KC</text>
<rect x="320.58" y="497.50" width="14.28" height="28.90" fill="#e3e5e6" stroke="#333" stroke-width="0.6"/>
<text x="329.82" y="511.95" font-size="7.3" text-anchor="middle" transform="rotate(-90 329.82 511.95)">−0.036</text>
<text x="330.02" y="529.60" font-size="8.5" text-anchor="end" textLength="38.54" lengthAdjust="spacingAndGlyphs" transform="rotate(-90 330.02 529.60)">CCR7 DC</text>
<rect x="334.86" y="497.50" width="14.28" height="28.90" fill="#e5e4e4" stroke="#333" stroke-width="0.6"/>
<text x="344.10" y="511.95" font-size="7.3" text-anchor="middle" transform="rotate(-90 344.10 511.95)">−0.019</text>
<text x="344.30" y="529.60" font-size="8.5" text-anchor="end" textLength="28.10" lengthAdjust="spacingAndGlyphs" transform="rotate(-90 344.30 529.60)">CD4 T<tspan font-size="6" dy="1.8">H</tspan></text>
<rect x="349.14" y="497.50" width="14.28" height="28.90" fill="#e6e4e3" stroke="#333" stroke-width="0.6"/>
<text x="358.38" y="511.95" font-size="7.3" text-anchor="middle" transform="rotate(-90 358.38 511.95)">−0.014</text>
<text x="358.58" y="529.60" font-size="8.5" text-anchor="end" textLength="11.08" lengthAdjust="spacingAndGlyphs" transform="rotate(-90 358.58 529.60)">LC</text>
<rect x="363.42" y="497.50" width="14.28" height="28.90" fill="#e7e3e1" stroke="#333" stroke-width="0.6"/>
<text x="372.66" y="511.95" font-size="7.3" text-anchor="middle" transform="rotate(-90 372.66 511.95)">−0.006</text>
<text x="372.86" y="529.60" font-size="8.5" text-anchor="end" textLength="28.44" lengthAdjust="spacingAndGlyphs" transform="rotate(-90 372.86 529.60)">Melano</text>
<rect x="377.70" y="497.50" width="14.28" height="28.90" fill="#e7e3e1" stroke="#333" stroke-width="0.6"/>
<text x="386.94" y="511.95" font-size="7.3" text-anchor="middle" transform="rotate(-90 386.94 511.95)">−0.006</text>
<text x="387.14" y="529.60" font-size="8.5" text-anchor="end" textLength="28.91" lengthAdjust="spacingAndGlyphs" transform="rotate(-90 387.14 529.60)">IRS/HS</text>
<rect x="391.98" y="497.50" width="14.28" height="28.90" fill="#e8e2df" stroke="#333" stroke-width="0.6"/>
<text x="401.22" y="511.95" font-size="7.3" text-anchor="middle" transform="rotate(-90 401.22 511.95)">0.006</text>
<text x="401.42" y="529.60" font-size="8.5" text-anchor="end" textLength="16.38" lengthAdjust="spacingAndGlyphs" transform="rotate(-90 401.42 529.60)">Mac</text>
<rect x="406.26" y="497.50" width="14.28" height="28.90" fill="#eae0dc" stroke="#333" stroke-width="0.6"/>
<text x="415.50" y="511.95" font-size="7.3" text-anchor="middle" transform="rotate(-90 415.50 511.95)">0.017</text>
<text x="415.70" y="529.60" font-size="8.5" text-anchor="end" textLength="38.08" lengthAdjust="spacingAndGlyphs" transform="rotate(-90 415.70 529.60)">Ecc gland</text>
<rect x="420.54" y="497.50" width="14.28" height="28.90" fill="#eae0dc" stroke="#333" stroke-width="0.6"/>
<text x="429.78" y="511.95" font-size="7.3" text-anchor="middle" transform="rotate(-90 429.78 511.95)">0.017</text>
<text x="429.98" y="529.60" font-size="8.5" text-anchor="end" textLength="37.11" lengthAdjust="spacingAndGlyphs" transform="rotate(-90 429.98 529.60)">Spn KC II</text>
<rect x="434.82" y="497.50" width="14.28" height="28.90" fill="#f1dcd1" stroke="#333" stroke-width="0.6"/>
<text x="444.06" y="511.95" font-size="7.3" text-anchor="middle" transform="rotate(-90 444.06 511.95)">0.061</text>
<text x="444.26" y="529.60" font-size="8.5" text-anchor="end" textLength="63.61" lengthAdjust="spacingAndGlyphs" transform="rotate(-90 444.26 529.60)">ORS suprabasal</text>
<rect x="449.10" y="497.50" width="14.28" height="28.90" fill="#f6d7c8" stroke="#333" stroke-width="0.6"/>
<text x="458.34" y="511.95" font-size="7.3" text-anchor="middle" transform="rotate(-90 458.34 511.95)">0.105</text>
<text x="458.54" y="529.60" font-size="8.5" text-anchor="end" textLength="44.81" lengthAdjust="spacingAndGlyphs" transform="rotate(-90 458.54 529.60)">Ecc myoepi</text>
<rect x="463.38" y="497.50" width="14.28" height="28.90" fill="#f6d7c8" stroke="#333" stroke-width="0.6"/>
<text x="472.62" y="511.95" font-size="7.3" text-anchor="middle" transform="rotate(-90 472.62 511.95)">0.105</text>
<text x="472.82" y="529.60" font-size="8.5" text-anchor="end" textLength="33.25" lengthAdjust="spacingAndGlyphs" transform="rotate(-90 472.82 529.60)">Ecc duct</text>
<rect x="477.66" y="497.50" width="14.28" height="28.90" fill="#f8cdb8" stroke="#333" stroke-width="0.6"/>
<text x="486.90" y="511.95" font-size="7.3" text-anchor="middle" transform="rotate(-90 486.90 511.95)">0.163</text>
<text x="487.10" y="529.60" font-size="8.5" text-anchor="end" textLength="12.04" lengthAdjust="spacingAndGlyphs" transform="rotate(-90 487.10 529.60)">DP</text>
<rect x="491.94" y="497.50" width="14.28" height="28.90" fill="#f8c8b0" stroke="#333" stroke-width="0.6"/>
<text x="501.18" y="511.95" font-size="7.3" text-anchor="middle" transform="rotate(-90 501.18 511.95)">0.179</text>
<text x="501.38" y="529.60" font-size="8.5" text-anchor="end" textLength="42.89" lengthAdjust="spacingAndGlyphs" transform="rotate(-90 501.38 529.60)">ORS Basal</text>
<rect x="506.22" y="497.50" width="14.28" height="28.90" fill="#f5b99d" stroke="#333" stroke-width="0.6"/>
<text x="515.46" y="511.95" font-size="7.3" text-anchor="middle" transform="rotate(-90 515.46 511.95)">0.24</text>
<text x="515.66" y="529.60" font-size="8.5" text-anchor="end" textLength="28.91" lengthAdjust="spacingAndGlyphs" transform="rotate(-90 515.66 529.60)">Grn KC</text>
<rect x="520.50" y="497.50" width="14.28" height="28.90" fill="#f4b295" stroke="#333" stroke-width="0.6"/>
<text x="529.74" y="511.95" font-size="7.3" text-anchor="middle" transform="rotate(-90 529.74 511.95)">0.265</text>
<text x="529.94" y="529.60" font-size="8.5" text-anchor="end" textLength="35.67" lengthAdjust="spacingAndGlyphs" transform="rotate(-90 529.94 529.60)">Schwann</text>
<rect x="534.78" y="497.50" width="14.28" height="28.90" fill="#f2aa8b" stroke="#333" stroke-width="0.6"/>
<text x="544.02" y="511.95" font-size="7.3" text-anchor="middle" transform="rotate(-90 544.02 511.95)">0.295</text>
<text x="544.22" y="529.60" font-size="8.5" text-anchor="end" textLength="22.18" lengthAdjust="spacingAndGlyphs" transform="rotate(-90 544.22 529.60)">Bulge</text>
<rect x="549.06" y="497.50" width="14.28" height="28.90" fill="#f1a687" stroke="#333" stroke-width="0.6"/>
<text x="558.30" y="511.95" font-size="7.3" text-anchor="middle" transform="rotate(-90 558.30 511.95)">0.309</text>
<text x="558.50" y="529.60" font-size="8.5" text-anchor="end" textLength="53.97" lengthAdjust="spacingAndGlyphs" transform="rotate(-90 558.50 529.60)">Perineural Fib</text>
<rect x="563.34" y="497.50" width="14.28" height="28.90" fill="#ee9c7e" stroke="#333" stroke-width="0.6"/>
<text x="572.58" y="511.95" font-size="7.3" text-anchor="middle" transform="rotate(-90 572.58 511.95)">0.34</text>
<text x="572.78" y="529.60" font-size="8.5" text-anchor="end" textLength="24.90" lengthAdjust="spacingAndGlyphs" transform="rotate(-90 572.78 529.60)">Diff Inf</text>
<rect x="577.62" y="497.50" width="14.28" height="28.90" fill="#dc6f57" stroke="#333" stroke-width="0.6"/>
<text x="586.86" y="511.95" font-size="7.3" text-anchor="middle" transform="rotate(-90 586.86 511.95)">0.483</text>
<text x="587.06" y="529.60" font-size="8.5" text-anchor="end" textLength="32.78" lengthAdjust="spacingAndGlyphs" transform="rotate(-90 587.06 529.60)">Bas Seb</text>
<rect x="591.90" y="497.50" width="14.28" height="28.90" fill="#d5604e" stroke="#333" stroke-width="0.6"/>
<text x="601.14" y="511.95" font-size="7.3" text-anchor="middle" transform="rotate(-90 601.14 511.95)">0.552</text>
<text x="601.34" y="529.60" font-size="8.5" text-anchor="end" textLength="13.01" lengthAdjust="spacingAndGlyphs" transform="rotate(-90 601.34 529.60)">SM</text>
<rect x="606.18" y="497.50" width="14.28" height="28.90" fill="#cf5449" stroke="#333" stroke-width="0.6"/>
<text x="615.42" y="511.95" font-size="7.3" text-anchor="middle" transform="rotate(-90 615.42 511.95)">0.596</text>
<text x="615.62" y="529.60" font-size="8.5" text-anchor="end" textLength="18.31" lengthAdjust="spacingAndGlyphs" transform="rotate(-90 615.62 529.60)">HEC</text>
<rect x="620.46" y="497.50" width="14.28" height="28.90" fill="#cc4f46" stroke="#333" stroke-width="0.6"/>
<text x="629.70" y="511.95" font-size="7.3" text-anchor="middle" transform="rotate(-90 629.70 511.95)">0.618</text>
<text x="629.90" y="529.60" font-size="8.5" text-anchor="end" textLength="30.68" lengthAdjust="spacingAndGlyphs" transform="rotate(-90 629.90 529.60)">Diff Seb</text>
<rect x="634.74" y="497.50" width="14.28" height="28.90" fill="#be2f36" stroke="#333" stroke-width="0.6"/>
<text x="643.98" y="511.95" font-size="7.3" text-anchor="middle" transform="rotate(-90 643.98 511.95)">0.734</text>
<text x="644.18" y="529.60" font-size="8.5" text-anchor="end" textLength="17.83" lengthAdjust="spacingAndGlyphs" transform="rotate(-90 644.18 529.60)">VEC</text>
<rect x="649.02" y="497.50" width="14.28" height="28.90" fill="#b5222f" stroke="#333" stroke-width="0.6"/>
<text x="658.26" y="511.95" font-size="7.3" text-anchor="middle" transform="rotate(-90 658.26 511.95)">0.775</text>
<text x="658.46" y="529.60" font-size="8.5" text-anchor="end" textLength="15.42" lengthAdjust="spacingAndGlyphs" transform="rotate(-90 658.46 529.60)">Peri</text>
<line x1="34.98" y1="497.50" x2="34.98" y2="526.40" stroke="#000" stroke-width="1.1"/>
<rect x="20.70" y="497.50" width="28.56" height="28.90" fill="none" stroke="#000" stroke-width="1.6"/>
<line x1="620.46" y1="497.50" x2="620.46" y2="526.40" stroke="#000" stroke-width="1.1"/>
<line x1="634.74" y1="497.50" x2="634.74" y2="526.40" stroke="#000" stroke-width="1.1"/>
<line x1="649.02" y1="497.50" x2="649.02" y2="526.40" stroke="#000" stroke-width="1.1"/>
<rect x="606.18" y="497.50" width="57.12" height="28.90" fill="none" stroke="#000" stroke-width="1.6"/>
<rect x="620.40" y="570.00" width="7.80" height="7.80" fill="none" stroke="#000" stroke-width="1.4"/>
<text x="632.10" y="576.70" font-size="8.8"><tspan font-style="italic">P</tspan> &lt; 0.05</text>
<text x="-0.80" y="610.70" font-size="13" font-weight="bold" fill="#000">h</text>
<path d="M36.80,621.70 C39.00,623.17 45.92,627.78 50.00,630.50 C54.08,633.22 56.02,634.53 61.30,638.00 C66.58,641.47 74.88,647.88 81.70,651.30 C88.52,654.72 94.80,656.80 102.20,658.50 C109.60,660.20 122.12,661.00 126.10,661.50 L126.10,706.90 C122.12,703.08 109.60,690.03 102.20,684.00 C94.80,677.97 88.52,674.10 81.70,670.70 C74.88,667.30 68.78,664.95 61.30,663.60 C53.82,662.25 40.88,662.77 36.80,662.60 Z" fill="#D6D6D6"/>
<line x1="36.80" y1="642.70" x2="126.10" y2="684.60" stroke="#E41A1C" stroke-width="1.5"/>
<circle cx="36.80" cy="643.80" r="1.40" fill="#000"/>
<circle cx="61.70" cy="615.50" r="1.40" fill="#000"/>
<circle cx="58.70" cy="637.60" r="1.40" fill="#000"/>
<circle cx="58.70" cy="659.50" r="1.40" fill="#000"/>
<circle cx="54.00" cy="671.10" r="1.40" fill="#000"/>
<circle cx="55.40" cy="673.20" r="1.40" fill="#000"/>
<circle cx="81.70" cy="654.40" r="1.40" fill="#000"/>
<circle cx="86.90" cy="651.10" r="1.40" fill="#000"/>
<circle cx="86.90" cy="667.00" r="1.40" fill="#000"/>
<circle cx="94.40" cy="668.50" r="1.40" fill="#000"/>
<circle cx="94.40" cy="690.00" r="1.40" fill="#000"/>
<circle cx="117.90" cy="683.60" r="1.40" fill="#000"/>
<circle cx="126.10" cy="684.60" r="1.40" fill="#000"/>
<line x1="32.30" y1="610.40" x2="32.30" y2="711.60" stroke="#444" stroke-width="0.8"/>
<line x1="32.30" y1="711.60" x2="129.80" y2="711.60" stroke="#444" stroke-width="0.8"/>
<line x1="30.10" y1="616.60" x2="32.30" y2="616.60" stroke="#444" stroke-width="0.7"/>
<text x="25.70" y="619.50" font-size="8.6" text-anchor="end" textLength="11.00" lengthAdjust="spacingAndGlyphs">0.4</text>
<line x1="30.10" y1="641.50" x2="32.30" y2="641.50" stroke="#444" stroke-width="0.7"/>
<text x="25.70" y="644.40" font-size="8.6" text-anchor="end" textLength="11.00" lengthAdjust="spacingAndGlyphs">0.3</text>
<line x1="30.10" y1="666.60" x2="32.30" y2="666.60" stroke="#444" stroke-width="0.7"/>
<text x="25.70" y="669.50" font-size="8.6" text-anchor="end" textLength="11.00" lengthAdjust="spacingAndGlyphs">0.2</text>
<line x1="30.10" y1="691.60" x2="32.30" y2="691.60" stroke="#444" stroke-width="0.7"/>
<text x="25.70" y="694.50" font-size="8.6" text-anchor="end" textLength="11.00" lengthAdjust="spacingAndGlyphs">0.1</text>
<line x1="60.70" y1="711.60" x2="60.70" y2="714.00" stroke="#444" stroke-width="0.7"/>
<text x="60.70" y="723.20" font-size="8.6" text-anchor="middle" textLength="8.90" lengthAdjust="spacingAndGlyphs">40</text>
<line x1="92.00" y1="711.60" x2="92.00" y2="714.00" stroke="#444" stroke-width="0.7"/>
<text x="92.00" y="723.20" font-size="8.6" text-anchor="middle" textLength="8.90" lengthAdjust="spacingAndGlyphs">60</text>
<line x1="123.00" y1="711.60" x2="123.00" y2="714.00" stroke="#444" stroke-width="0.7"/>
<text x="123.00" y="723.20" font-size="8.6" text-anchor="middle" textLength="8.90" lengthAdjust="spacingAndGlyphs">80</text>
<text x="82.80" y="736.00" font-size="8.8" text-anchor="middle">Age</text>
<text x="6.60" y="661.50" font-size="8.8" text-anchor="middle" textLength="83.80" lengthAdjust="spacingAndGlyphs" transform="rotate(-90 6.60 661.50)">Retic Fib I proportion</text>
<text x="35.80" y="700.40" font-size="7.3" textLength="59.90" lengthAdjust="spacingAndGlyphs">Spearman = −0.51</text>
<text x="35.80" y="708.50" font-size="7.3" textLength="36.80" lengthAdjust="spacingAndGlyphs">P = 0.0729</text>
<text x="138.70" y="610.70" font-size="13" font-weight="bold" fill="#000">i</text>
<path d="M184.50,669.30 C188.17,668.68 199.42,667.92 206.50,665.60 C213.58,663.28 220.18,659.83 227.00,655.40 C233.82,650.97 240.77,644.78 247.40,639.00 C254.03,633.22 263.57,623.75 266.80,620.70 L266.80,662.60 C263.57,663.62 254.03,666.50 247.40,668.70 C240.77,670.90 233.82,672.90 227.00,675.80 C220.18,678.70 213.58,680.98 206.50,686.10 C199.42,691.22 188.17,703.10 184.50,706.50 Z" fill="#D6D6D6"/>
<line x1="184.50" y1="688.50" x2="266.80" y2="642.30" stroke="#E41A1C" stroke-width="1.5"/>
<circle cx="184.50" cy="684.00" r="1.40" fill="#000"/>
<circle cx="200.40" cy="683.20" r="1.40" fill="#000"/>
<circle cx="201.60" cy="657.40" r="1.40" fill="#000"/>
<circle cx="204.50" cy="667.70" r="1.40" fill="#000"/>
<circle cx="207.60" cy="668.70" r="1.40" fill="#000"/>
<circle cx="204.90" cy="680.90" r="1.40" fill="#000"/>
<circle cx="226.10" cy="684.60" r="1.40" fill="#000"/>
<circle cx="230.40" cy="679.50" r="1.40" fill="#000"/>
<circle cx="230.40" cy="655.80" r="1.40" fill="#000"/>
<circle cx="237.80" cy="675.80" r="1.40" fill="#000"/>
<circle cx="237.80" cy="678.90" r="1.40" fill="#000"/>
<circle cx="259.30" cy="637.80" r="1.40" fill="#000"/>
<circle cx="266.80" cy="615.50" r="1.40" fill="#000"/>
<line x1="180.40" y1="610.40" x2="180.40" y2="711.60" stroke="#444" stroke-width="0.8"/>
<line x1="180.40" y1="711.60" x2="269.90" y2="711.60" stroke="#444" stroke-width="0.8"/>
<line x1="178.20" y1="626.40" x2="180.40" y2="626.40" stroke="#444" stroke-width="0.7"/>
<text x="173.80" y="629.30" font-size="8.6" text-anchor="end" textLength="19.80" lengthAdjust="spacingAndGlyphs">0.020</text>
<line x1="178.20" y1="644.80" x2="180.40" y2="644.80" stroke="#444" stroke-width="0.7"/>
<text x="173.80" y="647.70" font-size="8.6" text-anchor="end" textLength="19.80" lengthAdjust="spacingAndGlyphs">0.015</text>
<line x1="178.20" y1="663.20" x2="180.40" y2="663.20" stroke="#444" stroke-width="0.7"/>
<text x="173.80" y="666.10" font-size="8.6" text-anchor="end" textLength="19.80" lengthAdjust="spacingAndGlyphs">0.010</text>
<line x1="178.20" y1="681.60" x2="180.40" y2="681.60" stroke="#444" stroke-width="0.7"/>
<text x="173.80" y="684.50" font-size="8.6" text-anchor="end" textLength="19.80" lengthAdjust="spacingAndGlyphs">0.005</text>
<line x1="178.20" y1="700.40" x2="180.40" y2="700.40" stroke="#444" stroke-width="0.7"/>
<text x="173.80" y="703.30" font-size="8.6" text-anchor="end" textLength="4.40" lengthAdjust="spacingAndGlyphs">0</text>
<line x1="206.50" y1="711.60" x2="206.50" y2="714.00" stroke="#444" stroke-width="0.7"/>
<text x="206.50" y="723.20" font-size="8.6" text-anchor="middle" textLength="8.90" lengthAdjust="spacingAndGlyphs">40</text>
<line x1="235.10" y1="711.60" x2="235.10" y2="714.00" stroke="#444" stroke-width="0.7"/>
<text x="235.10" y="723.20" font-size="8.6" text-anchor="middle" textLength="8.90" lengthAdjust="spacingAndGlyphs">60</text>
<line x1="263.80" y1="711.60" x2="263.80" y2="714.00" stroke="#444" stroke-width="0.7"/>
<text x="263.80" y="723.20" font-size="8.6" text-anchor="middle" textLength="8.90" lengthAdjust="spacingAndGlyphs">80</text>
<text x="226.00" y="736.00" font-size="8.8" text-anchor="middle">Age</text>
<text x="145.50" y="661.50" font-size="8.8" text-anchor="middle" textLength="57.20" lengthAdjust="spacingAndGlyphs" transform="rotate(-90 145.50 661.50)">SM proportion</text>
<text x="206.50" y="700.40" font-size="7.3" textLength="57.60" lengthAdjust="spacingAndGlyphs">Spearman = 0.55</text>
<text x="206.50" y="708.50" font-size="7.3" textLength="36.80" lengthAdjust="spacingAndGlyphs">P = 0.0506</text>
<path d="M319.50,667.30 C323.17,666.52 334.42,664.92 341.50,662.60 C348.58,660.28 355.18,658.00 362.00,653.40 C368.82,648.80 375.22,641.20 382.40,635.00 C389.58,628.80 401.32,619.33 405.10,616.20 L405.10,659.50 C401.32,660.52 389.58,663.57 382.40,665.60 C375.22,667.63 368.82,668.97 362.00,671.70 C355.18,674.43 348.58,676.13 341.50,682.00 C334.42,687.87 323.17,702.75 319.50,706.90 Z" fill="#D6D6D6"/>
<line x1="319.50" y1="687.10" x2="405.10" y2="638.00" stroke="#E41A1C" stroke-width="1.5"/>
<circle cx="319.50" cy="691.00" r="1.40" fill="#000"/>
<circle cx="335.80" cy="670.30" r="1.40" fill="#000"/>
<circle cx="337.40" cy="673.80" r="1.40" fill="#000"/>
<circle cx="343.20" cy="672.80" r="1.40" fill="#000"/>
<circle cx="340.50" cy="684.20" r="1.40" fill="#000"/>
<circle cx="340.50" cy="691.00" r="1.40" fill="#000"/>
<circle cx="363.00" cy="670.70" r="1.40" fill="#000"/>
<circle cx="367.50" cy="616.00" r="1.40" fill="#000"/>
<circle cx="367.50" cy="656.40" r="1.40" fill="#000"/>
<circle cx="375.00" cy="651.90" r="1.40" fill="#000"/>
<circle cx="375.00" cy="663.80" r="1.40" fill="#000"/>
<circle cx="397.70" cy="630.10" r="1.40" fill="#000"/>
<circle cx="405.10" cy="662.60" r="1.40" fill="#000"/>
<line x1="315.40" y1="610.40" x2="315.40" y2="711.60" stroke="#444" stroke-width="0.8"/>
<line x1="315.40" y1="711.60" x2="409.00" y2="711.60" stroke="#444" stroke-width="0.8"/>
<line x1="313.20" y1="633.30" x2="315.40" y2="633.30" stroke="#444" stroke-width="0.7"/>
<text x="308.80" y="636.20" font-size="8.6" text-anchor="end" textLength="15.40" lengthAdjust="spacingAndGlyphs">0.08</text>
<line x1="313.20" y1="664.20" x2="315.40" y2="664.20" stroke="#444" stroke-width="0.7"/>
<text x="308.80" y="667.10" font-size="8.6" text-anchor="end" textLength="15.40" lengthAdjust="spacingAndGlyphs">0.06</text>
<line x1="313.20" y1="695.30" x2="315.40" y2="695.30" stroke="#444" stroke-width="0.7"/>
<text x="308.80" y="698.20" font-size="8.6" text-anchor="end" textLength="15.40" lengthAdjust="spacingAndGlyphs">0.04</text>
<line x1="343.20" y1="711.60" x2="343.20" y2="714.00" stroke="#444" stroke-width="0.7"/>
<text x="343.20" y="723.20" font-size="8.6" text-anchor="middle" textLength="8.90" lengthAdjust="spacingAndGlyphs">40</text>
<line x1="373.20" y1="711.60" x2="373.20" y2="714.00" stroke="#444" stroke-width="0.7"/>
<text x="373.20" y="723.20" font-size="8.6" text-anchor="middle" textLength="8.90" lengthAdjust="spacingAndGlyphs">60</text>
<line x1="402.80" y1="711.60" x2="402.80" y2="714.00" stroke="#444" stroke-width="0.7"/>
<text x="402.80" y="723.20" font-size="8.6" text-anchor="middle" textLength="8.90" lengthAdjust="spacingAndGlyphs">80</text>
<text x="362.00" y="736.00" font-size="8.8" text-anchor="middle">Age</text>
<text x="284.20" y="661.00" font-size="8.8" text-anchor="middle" textLength="60.30" lengthAdjust="spacingAndGlyphs" transform="rotate(-90 284.20 661.00)">Peri proportion</text>
<text x="346.60" y="700.40" font-size="7.3" textLength="56.60" lengthAdjust="spacingAndGlyphs">Spearman = 0.78</text>
<text x="346.60" y="708.50" font-size="7.3" textLength="36.80" lengthAdjust="spacingAndGlyphs"><tspan font-style="italic">P</tspan> = 0.0019</text>
<path d="M460.70,666.60 C464.17,666.10 474.62,665.80 481.50,663.60 C488.38,661.40 495.18,658.17 502.00,653.40 C508.82,648.63 515.52,641.20 522.40,635.00 C529.28,628.80 539.82,619.33 543.30,616.20 L543.30,661.50 C539.82,662.02 529.28,663.07 522.40,664.60 C515.52,666.13 508.82,667.80 502.00,670.70 C495.18,673.60 488.38,675.97 481.50,682.00 C474.62,688.03 464.17,702.75 460.70,706.90 Z" fill="#D6D6D6"/>
<line x1="460.70" y1="686.50" x2="543.30" y2="638.60" stroke="#E41A1C" stroke-width="1.5"/>
<circle cx="460.70" cy="686.10" r="1.40" fill="#000"/>
<circle cx="476.60" cy="658.10" r="1.40" fill="#000"/>
<circle cx="478.10" cy="684.00" r="1.40" fill="#000"/>
<circle cx="481.10" cy="684.00" r="1.40" fill="#000"/>
<circle cx="484.00" cy="691.20" r="1.40" fill="#000"/>
<circle cx="481.10" cy="694.80" r="1.40" fill="#000"/>
<circle cx="502.80" cy="667.00" r="1.40" fill="#000"/>
<circle cx="507.10" cy="633.90" r="1.40" fill="#000"/>
<circle cx="507.10" cy="643.50" r="1.40" fill="#000"/>
<circle cx="514.20" cy="639.00" r="1.40" fill="#000"/>
<circle cx="514.20" cy="647.80" r="1.40" fill="#000"/>
<circle cx="535.90" cy="638.40" r="1.40" fill="#000"/>
<circle cx="543.30" cy="668.70" r="1.40" fill="#000"/>
<line x1="456.60" y1="610.40" x2="456.60" y2="711.60" stroke="#444" stroke-width="0.8"/>
<line x1="456.60" y1="711.60" x2="546.50" y2="711.60" stroke="#444" stroke-width="0.8"/>
<line x1="454.40" y1="622.30" x2="456.60" y2="622.30" stroke="#444" stroke-width="0.7"/>
<text x="450.00" y="625.20" font-size="8.6" text-anchor="end" textLength="19.80" lengthAdjust="spacingAndGlyphs">0.125</text>
<line x1="454.40" y1="644.60" x2="456.60" y2="644.60" stroke="#444" stroke-width="0.7"/>
<text x="450.00" y="647.50" font-size="8.6" text-anchor="end" textLength="19.80" lengthAdjust="spacingAndGlyphs">0.100</text>
<line x1="454.40" y1="667.00" x2="456.60" y2="667.00" stroke="#444" stroke-width="0.7"/>
<text x="450.00" y="669.90" font-size="8.6" text-anchor="end" textLength="19.80" lengthAdjust="spacingAndGlyphs">0.075</text>
<line x1="454.40" y1="689.50" x2="456.60" y2="689.50" stroke="#444" stroke-width="0.7"/>
<text x="450.00" y="692.40" font-size="8.6" text-anchor="end" textLength="19.80" lengthAdjust="spacingAndGlyphs">0.050</text>
<line x1="454.40" y1="711.60" x2="456.60" y2="711.60" stroke="#444" stroke-width="0.7"/>
<text x="450.00" y="714.50" font-size="8.6" text-anchor="end" textLength="19.80" lengthAdjust="spacingAndGlyphs">0.025</text>
<line x1="483.60" y1="711.60" x2="483.60" y2="714.00" stroke="#444" stroke-width="0.7"/>
<text x="483.60" y="723.20" font-size="8.6" text-anchor="middle" textLength="8.90" lengthAdjust="spacingAndGlyphs">40</text>
<line x1="511.80" y1="711.60" x2="511.80" y2="714.00" stroke="#444" stroke-width="0.7"/>
<text x="511.80" y="723.20" font-size="8.6" text-anchor="middle" textLength="8.90" lengthAdjust="spacingAndGlyphs">60</text>
<line x1="540.80" y1="711.60" x2="540.80" y2="714.00" stroke="#444" stroke-width="0.7"/>
<text x="540.80" y="723.20" font-size="8.6" text-anchor="middle" textLength="8.90" lengthAdjust="spacingAndGlyphs">80</text>
<text x="502.00" y="736.00" font-size="8.8" text-anchor="middle">Age</text>
<text x="423.70" y="661.00" font-size="8.8" text-anchor="middle" textLength="62.30" lengthAdjust="spacingAndGlyphs" transform="rotate(-90 423.70 661.00)">HEC proportion</text>
<text x="488.70" y="698.30" font-size="7.3" textLength="53.70" lengthAdjust="spacingAndGlyphs">Spearman = 0.6</text>
<text x="488.70" y="706.40" font-size="7.3" textLength="36.80" lengthAdjust="spacingAndGlyphs"><tspan font-style="italic">P</tspan> = 0.0316</text>
<path d="M594.90,675.40 C598.50,674.12 609.48,670.87 616.50,667.70 C623.52,664.53 630.18,661.18 637.00,656.40 C643.82,651.62 650.18,645.70 657.40,639.00 C664.62,632.30 676.48,620.00 680.30,616.20 L680.30,650.30 C676.48,651.83 664.62,655.58 657.40,659.50 C650.18,663.42 643.82,669.37 637.00,673.80 C630.18,678.23 623.52,680.65 616.50,686.10 C609.48,691.55 598.50,703.10 594.90,706.50 Z" fill="#D6D6D6"/>
<line x1="594.90" y1="691.20" x2="680.30" y2="633.30" stroke="#E41A1C" stroke-width="1.5"/>
<circle cx="594.90" cy="681.00" r="1.40" fill="#000"/>
<circle cx="611.00" cy="676.90" r="1.40" fill="#000"/>
<circle cx="615.90" cy="678.50" r="1.40" fill="#000"/>
<circle cx="612.90" cy="689.10" r="1.40" fill="#000"/>
<circle cx="615.90" cy="687.70" r="1.40" fill="#000"/>
<circle cx="619.00" cy="693.60" r="1.40" fill="#000"/>
<circle cx="638.40" cy="668.70" r="1.40" fill="#000"/>
<circle cx="642.90" cy="630.30" r="1.40" fill="#000"/>
<circle cx="642.90" cy="643.80" r="1.40" fill="#000"/>
<circle cx="650.30" cy="646.20" r="1.40" fill="#000"/>
<circle cx="650.30" cy="652.30" r="1.40" fill="#000"/>
<circle cx="672.90" cy="651.70" r="1.40" fill="#000"/>
<circle cx="680.30" cy="636.60" r="1.40" fill="#000"/>
<line x1="590.40" y1="610.40" x2="590.40" y2="711.60" stroke="#444" stroke-width="0.8"/>
<line x1="590.40" y1="711.60" x2="684.00" y2="711.60" stroke="#444" stroke-width="0.8"/>
<line x1="588.20" y1="635.40" x2="590.40" y2="635.40" stroke="#444" stroke-width="0.7"/>
<text x="583.80" y="638.30" font-size="8.6" text-anchor="end" textLength="15.40" lengthAdjust="spacingAndGlyphs">0.03</text>
<line x1="588.20" y1="664.20" x2="590.40" y2="664.20" stroke="#444" stroke-width="0.7"/>
<text x="583.80" y="667.10" font-size="8.6" text-anchor="end" textLength="15.40" lengthAdjust="spacingAndGlyphs">0.02</text>
<line x1="588.20" y1="693.20" x2="590.40" y2="693.20" stroke="#444" stroke-width="0.7"/>
<text x="583.80" y="696.10" font-size="8.6" text-anchor="end" textLength="15.40" lengthAdjust="spacingAndGlyphs">0.01</text>
<line x1="618.20" y1="711.60" x2="618.20" y2="714.00" stroke="#444" stroke-width="0.7"/>
<text x="618.20" y="723.20" font-size="8.6" text-anchor="middle" textLength="8.90" lengthAdjust="spacingAndGlyphs">40</text>
<line x1="648.20" y1="711.60" x2="648.20" y2="714.00" stroke="#444" stroke-width="0.7"/>
<text x="648.20" y="723.20" font-size="8.6" text-anchor="middle" textLength="8.90" lengthAdjust="spacingAndGlyphs">60</text>
<line x1="677.80" y1="711.60" x2="677.80" y2="714.00" stroke="#444" stroke-width="0.7"/>
<text x="677.80" y="723.20" font-size="8.6" text-anchor="middle" textLength="8.90" lengthAdjust="spacingAndGlyphs">80</text>
<text x="637.00" y="736.00" font-size="8.8" text-anchor="middle">Age</text>
<text x="560.00" y="657.50" font-size="8.8" text-anchor="middle" textLength="61.30" lengthAdjust="spacingAndGlyphs" transform="rotate(-90 560.00 657.50)">VEC proportion</text>
<text x="621.00" y="700.40" font-size="7.3" textLength="58.90" lengthAdjust="spacingAndGlyphs">Spearman  = 0.73</text>
<text x="621.00" y="708.50" font-size="7.3" textLength="36.80" lengthAdjust="spacingAndGlyphs"><tspan font-style="italic">P</tspan> = 0.0043</text>
</svg>
</body></html>
